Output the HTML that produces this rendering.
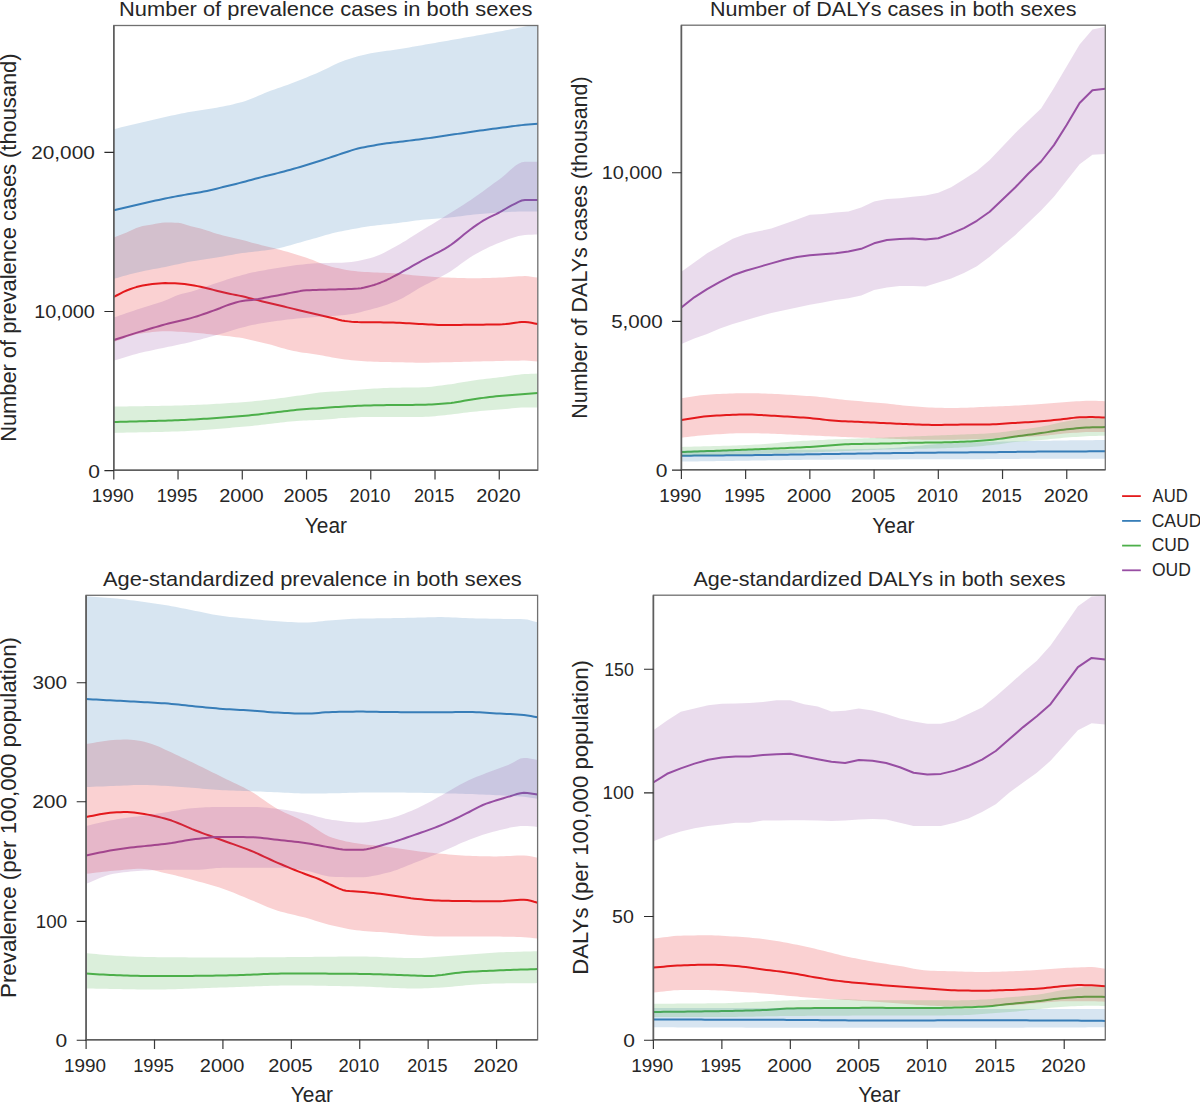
<!DOCTYPE html>
<html><head><meta charset="utf-8"><style>
html,body{margin:0;padding:0;background:#fff;}
svg{display:block;}
text{font-family:"Liberation Sans",sans-serif;fill:#262626;}
</style></head><body>
<svg width="1200" height="1103" viewBox="0 0 1200 1103">
<defs><clipPath id="clip1"><rect x="113.8" y="25.5" width="423.99999999999994" height="444.7"/></clipPath><clipPath id="clip2"><rect x="681.4" y="25.2" width="423.9" height="444.5"/></clipPath><clipPath id="clip3"><rect x="86.1" y="595.3" width="451.5" height="444.5"/></clipPath><clipPath id="clip4"><rect x="653.4" y="595.2" width="451.9" height="444.5999999999999"/></clipPath></defs>
<rect width="1200" height="1103" fill="#fff"/>
<g clip-path="url(#clip1)">
<polyline points="113.80,296.90 117.01,295.24 120.22,293.54 123.44,291.92 126.65,290.50 129.86,289.26 133.07,288.10 136.28,287.09 139.50,286.25 142.71,285.54 145.92,284.92 149.13,284.39 152.35,284.00 155.56,283.68 158.77,283.39 161.98,283.18 165.19,283.10 168.41,283.13 171.62,283.22 174.83,283.35 178.04,283.50 181.25,283.74 184.47,284.09 187.68,284.53 190.89,285.00 194.10,285.52 197.32,286.13 200.53,286.80 203.74,287.50 206.95,288.25 210.16,289.06 213.38,289.90 216.59,290.70 219.80,291.47 223.01,292.24 226.22,292.98 229.44,293.70 232.65,294.36 235.86,294.98 239.07,295.62 242.28,296.30 245.50,297.07 248.71,297.91 251.92,298.77 255.13,299.60 258.35,300.39 261.56,301.16 264.77,301.93 267.98,302.70 271.19,303.47 274.41,304.25 277.62,305.02 280.83,305.80 284.04,306.58 287.25,307.35 290.47,308.12 293.68,308.90 296.89,309.68 300.10,310.46 303.32,311.23 306.53,312.00 309.74,312.76 312.95,313.52 316.16,314.27 319.38,315.01 322.59,315.76 325.80,316.51 329.01,317.25 332.22,318.00 335.44,318.82 338.65,319.67 341.86,320.45 345.07,321.00 348.28,321.38 351.50,321.72 354.71,321.96 357.92,322.10 361.13,322.16 364.35,322.21 367.56,322.24 370.77,322.27 373.98,322.29 377.19,322.32 380.41,322.36 383.62,322.40 386.83,322.46 390.04,322.53 393.25,322.61 396.47,322.70 399.68,322.82 402.89,322.98 406.10,323.16 409.32,323.35 412.53,323.56 415.74,323.75 418.95,323.94 422.16,324.10 425.38,324.25 428.59,324.42 431.80,324.59 435.01,324.75 438.22,324.89 441.44,325.00 444.65,325.07 447.86,325.10 451.07,325.09 454.28,325.05 457.50,325.00 460.71,324.93 463.92,324.87 467.13,324.80 470.35,324.74 473.56,324.70 476.77,324.67 479.98,324.65 483.19,324.63 486.41,324.61 489.62,324.59 492.83,324.57 496.04,324.54 499.25,324.50 502.47,324.36 505.68,324.06 508.89,323.65 512.10,323.20 515.32,322.76 518.53,322.37 521.74,322.10 524.95,322.00 528.16,322.23 531.38,322.79 534.59,323.48 537.80,324.10" fill="none" stroke="#E41A1C" stroke-width="2.0" stroke-linejoin="round"/>
<polyline points="113.80,210.20 117.01,209.45 120.22,208.70 123.44,207.95 126.65,207.19 129.86,206.44 133.07,205.68 136.28,204.93 139.50,204.19 142.71,203.45 145.92,202.72 149.13,202.00 152.35,201.30 155.56,200.60 158.77,199.91 161.98,199.23 165.19,198.55 168.41,197.89 171.62,197.24 174.83,196.61 178.04,196.00 181.25,195.42 184.47,194.88 187.68,194.35 190.89,193.84 194.10,193.32 197.32,192.78 200.53,192.21 203.74,191.60 206.95,190.93 210.16,190.22 213.38,189.47 216.59,188.69 219.80,187.90 223.01,187.09 226.22,186.29 229.44,185.50 232.65,184.72 235.86,183.93 239.07,183.12 242.28,182.30 245.50,181.44 248.71,180.56 251.92,179.67 255.13,178.80 258.35,177.96 261.56,177.13 264.77,176.31 267.98,175.50 271.19,174.70 274.41,173.91 277.62,173.12 280.83,172.30 284.04,171.45 287.25,170.59 290.47,169.70 293.68,168.80 296.89,167.88 300.10,166.93 303.32,165.97 306.53,165.00 309.74,164.02 312.95,163.03 316.16,162.02 319.38,161.00 322.59,159.97 325.80,158.92 329.01,157.86 332.22,156.80 335.44,155.72 338.65,154.64 341.86,153.56 345.07,152.50 348.28,151.44 351.50,150.37 354.71,149.36 357.92,148.50 361.13,147.79 364.35,147.16 367.56,146.58 370.77,146.00 373.98,145.41 377.19,144.84 380.41,144.29 383.62,143.80 386.83,143.36 390.04,142.97 393.25,142.59 396.47,142.20 399.68,141.80 402.89,141.41 406.10,141.02 409.32,140.63 412.53,140.23 415.74,139.83 418.95,139.42 422.16,139.00 425.38,138.56 428.59,138.12 431.80,137.66 435.01,137.19 438.22,136.72 441.44,136.24 444.65,135.77 447.86,135.30 451.07,134.83 454.28,134.35 457.50,133.87 460.71,133.39 463.92,132.91 467.13,132.43 470.35,131.96 473.56,131.50 476.77,131.05 479.98,130.60 483.19,130.15 486.41,129.71 489.62,129.28 492.83,128.85 496.04,128.42 499.25,128.00 502.47,127.58 505.68,127.14 508.89,126.71 512.10,126.28 515.32,125.87 518.53,125.48 521.74,125.12 524.95,124.80 528.16,124.52 531.38,124.28 534.59,124.04 537.80,123.80" fill="none" stroke="#377EB8" stroke-width="2.0" stroke-linejoin="round"/>
<polyline points="113.80,422.00 117.01,421.91 120.22,421.83 123.44,421.74 126.65,421.66 129.86,421.58 133.07,421.51 136.28,421.43 139.50,421.35 142.71,421.27 145.92,421.19 149.13,421.11 152.35,421.02 155.56,420.94 158.77,420.85 161.98,420.75 165.19,420.65 168.41,420.55 171.62,420.44 174.83,420.32 178.04,420.20 181.25,420.07 184.47,419.93 187.68,419.77 190.89,419.61 194.10,419.44 197.32,419.25 200.53,419.06 203.74,418.86 206.95,418.66 210.16,418.44 213.38,418.22 216.59,417.99 219.80,417.76 223.01,417.52 226.22,417.28 229.44,417.03 232.65,416.78 235.86,416.52 239.07,416.26 242.28,416.00 245.50,415.72 248.71,415.42 251.92,415.10 255.13,414.75 258.35,414.39 261.56,414.02 264.77,413.63 267.98,413.24 271.19,412.84 274.41,412.44 277.62,412.05 280.83,411.65 284.04,411.26 287.25,410.89 290.47,410.52 293.68,410.17 296.89,409.85 300.10,409.54 303.32,409.25 306.53,409.00 309.74,408.78 312.95,408.58 316.16,408.40 319.38,408.20 322.59,407.99 325.80,407.77 329.01,407.54 332.22,407.31 335.44,407.09 338.65,406.88 341.86,406.68 345.07,406.50 348.28,406.33 351.50,406.17 354.71,406.01 357.92,405.86 361.13,405.72 364.35,405.59 367.56,405.49 370.77,405.40 373.98,405.33 377.19,405.27 380.41,405.21 383.62,405.16 386.83,405.11 390.04,405.07 393.25,405.03 396.47,405.00 399.68,404.97 402.89,404.95 406.10,404.93 409.32,404.91 412.53,404.89 415.74,404.87 418.95,404.84 422.16,404.80 425.38,404.73 428.59,404.62 431.80,404.47 435.01,404.28 438.22,404.07 441.44,403.83 444.65,403.57 447.86,403.30 451.07,402.96 454.28,402.52 457.50,402.00 460.71,401.42 463.92,400.83 467.13,400.24 470.35,399.69 473.56,399.20 476.77,398.75 479.98,398.31 483.19,397.88 486.41,397.46 489.62,397.06 492.83,396.68 496.04,396.32 499.25,396.00 502.47,395.71 505.68,395.44 508.89,395.19 512.10,394.96 515.32,394.73 518.53,394.49 521.74,394.25 524.95,394.00 528.16,393.73 531.38,393.46 534.59,393.18 537.80,392.90" fill="none" stroke="#4DAF4A" stroke-width="2.0" stroke-linejoin="round"/>
<polyline points="113.80,340.00 117.01,338.98 120.22,337.96 123.44,336.94 126.65,335.91 129.86,334.89 133.07,333.88 136.28,332.88 139.50,331.90 142.71,330.93 145.92,329.95 149.13,328.99 152.35,328.03 155.56,327.09 158.77,326.17 161.98,325.27 165.19,324.40 168.41,323.57 171.62,322.79 174.83,322.04 178.04,321.30 181.25,320.56 184.47,319.79 187.68,318.97 190.89,318.10 194.10,317.16 197.32,316.17 200.53,315.13 203.74,314.06 206.95,312.95 210.16,311.81 213.38,310.66 216.59,309.50 219.80,308.26 223.01,306.93 226.22,305.64 229.44,304.50 232.65,303.47 235.86,302.49 239.07,301.64 242.28,301.00 245.50,300.58 248.71,300.27 251.92,299.97 255.13,299.60 258.35,299.09 261.56,298.48 264.77,297.83 267.98,297.20 271.19,296.60 274.41,296.01 277.62,295.41 280.83,294.80 284.04,294.17 287.25,293.52 290.47,292.89 293.68,292.30 296.89,291.71 300.10,291.11 303.32,290.61 306.53,290.30 309.74,290.14 312.95,290.01 316.16,289.91 319.38,289.83 322.59,289.75 325.80,289.68 329.01,289.60 332.22,289.50 335.44,289.40 338.65,289.32 341.86,289.24 345.07,289.15 348.28,289.06 351.50,288.94 354.71,288.79 357.92,288.60 361.13,288.22 364.35,287.57 367.56,286.76 370.77,285.90 373.98,284.97 377.19,283.89 380.41,282.69 383.62,281.40 386.83,279.97 390.04,278.38 393.25,276.70 396.47,275.00 399.68,273.28 402.89,271.49 406.10,269.67 409.32,267.82 412.53,265.96 415.74,264.11 418.95,262.28 422.16,260.50 425.38,258.79 428.59,257.16 431.80,255.56 435.01,253.96 438.22,252.33 441.44,250.63 444.65,248.84 447.86,246.90 451.07,244.75 454.28,242.38 457.50,239.85 460.71,237.22 463.92,234.57 467.13,231.95 470.35,229.44 473.56,227.10 476.77,224.88 479.98,222.73 483.19,220.69 486.41,218.80 489.62,217.13 492.83,215.60 496.04,214.10 499.25,212.50 502.47,210.69 505.68,208.76 508.89,206.88 512.10,205.20 515.32,203.53 518.53,201.84 521.74,200.53 524.95,200.00 528.16,200.00 531.38,200.00 534.59,200.00 537.80,200.00" fill="none" stroke="#984EA3" stroke-width="2.0" stroke-linejoin="round"/>
<polygon points="113.80,237.50 117.01,236.26 120.22,235.04 123.44,233.79 126.65,232.50 129.86,231.04 133.07,229.47 136.28,228.01 139.50,226.90 142.71,226.12 145.92,225.49 149.13,224.93 152.35,224.40 155.56,223.80 158.77,223.18 161.98,222.70 165.19,222.50 168.41,222.52 171.62,222.57 174.83,222.65 178.04,222.75 181.25,223.21 184.47,224.14 187.68,225.26 190.89,226.25 194.10,227.04 197.32,227.78 200.53,228.55 203.74,229.40 206.95,230.42 210.16,231.57 213.38,232.73 216.59,233.75 219.80,234.61 223.01,235.39 226.22,236.14 229.44,236.90 232.65,237.67 235.86,238.43 239.07,239.20 242.28,240.00 245.50,240.85 248.71,241.74 251.92,242.63 255.13,243.50 258.35,244.33 261.56,245.14 264.77,245.92 267.98,246.71 271.19,247.50 274.41,248.30 277.62,249.13 280.83,250.00 284.04,250.90 287.25,251.82 290.47,252.77 293.68,253.74 296.89,254.72 300.10,255.73 303.32,256.76 306.53,257.80 309.74,258.91 312.95,260.12 316.16,261.38 319.38,262.65 322.59,263.88 325.80,265.03 329.01,266.05 332.22,266.90 335.44,267.64 338.65,268.35 341.86,269.01 345.07,269.63 348.28,270.18 351.50,270.67 354.71,271.08 357.92,271.40 361.13,271.66 364.35,271.88 367.56,272.06 370.77,272.23 373.98,272.38 377.19,272.52 380.41,272.65 383.62,272.79 386.83,272.94 390.04,273.10 393.25,273.28 396.47,273.50 399.68,273.76 402.89,274.08 406.10,274.43 409.32,274.79 412.53,275.16 415.74,275.51 418.95,275.83 422.16,276.10 425.38,276.33 428.59,276.56 431.80,276.78 435.01,276.98 438.22,277.17 441.44,277.33 444.65,277.48 447.86,277.60 451.07,277.71 454.28,277.81 457.50,277.92 460.71,278.01 463.92,278.09 467.13,278.15 470.35,278.19 473.56,278.20 476.77,278.19 479.98,278.15 483.19,278.09 486.41,278.01 489.62,277.92 492.83,277.81 496.04,277.71 499.25,277.60 502.47,277.45 505.68,277.25 508.89,277.00 512.10,276.74 515.32,276.50 518.53,276.29 521.74,276.15 524.95,276.10 528.16,276.26 531.38,276.66 534.59,277.15 537.80,277.60 537.80,361.60 534.59,361.30 531.38,360.98 528.16,360.71 524.95,360.60 521.74,360.61 518.53,360.64 515.32,360.68 512.10,360.74 508.89,360.80 505.68,360.87 502.47,360.94 499.25,361.00 496.04,361.06 492.83,361.13 489.62,361.21 486.41,361.29 483.19,361.36 479.98,361.44 476.77,361.52 473.56,361.60 470.35,361.68 467.13,361.75 463.92,361.83 460.71,361.91 457.50,361.98 454.28,362.06 451.07,362.13 447.86,362.20 444.65,362.27 441.44,362.35 438.22,362.44 435.01,362.52 431.80,362.59 428.59,362.65 425.38,362.69 422.16,362.70 418.95,362.69 415.74,362.65 412.53,362.59 409.32,362.52 406.10,362.44 402.89,362.35 399.68,362.27 396.47,362.20 393.25,362.13 390.04,362.07 386.83,362.01 383.62,361.95 380.41,361.88 377.19,361.80 373.98,361.71 370.77,361.60 367.56,361.46 364.35,361.27 361.13,361.05 357.92,360.79 354.71,360.50 351.50,360.19 348.28,359.85 345.07,359.50 341.86,359.09 338.65,358.59 335.44,358.03 332.22,357.42 329.01,356.79 325.80,356.16 322.59,355.56 319.38,355.00 316.16,354.49 312.95,354.02 309.74,353.56 306.53,353.11 303.32,352.64 300.10,352.14 296.89,351.60 293.68,351.00 290.47,350.30 287.25,349.49 284.04,348.60 280.83,347.66 277.62,346.71 274.41,345.76 271.19,344.84 267.98,344.00 264.77,343.22 261.56,342.47 258.35,341.73 255.13,341.00 251.92,340.23 248.71,339.44 245.50,338.71 242.28,338.10 239.07,337.60 235.86,337.16 232.65,336.75 229.44,336.37 226.22,336.02 223.01,335.68 219.80,335.34 216.59,335.00 213.38,334.65 210.16,334.30 206.95,333.95 203.74,333.61 200.53,333.29 197.32,333.00 194.10,332.73 190.89,332.50 187.68,332.29 184.47,332.07 181.25,331.86 178.04,331.67 174.83,331.50 171.62,331.37 168.41,331.28 165.19,331.25 161.98,331.31 158.77,331.46 155.56,331.70 152.35,332.02 149.13,332.40 145.92,332.82 142.71,333.28 139.50,333.75 136.28,334.35 133.07,335.18 129.86,336.17 126.65,337.28 123.44,338.46 120.22,339.66 117.01,340.82 113.80,341.90" fill="#E41A1C" fill-opacity="0.2"/>
<polygon points="113.80,129.20 117.01,128.41 120.22,127.62 123.44,126.82 126.65,126.02 129.86,125.23 133.07,124.45 136.28,123.67 139.50,122.90 142.71,122.14 145.92,121.38 149.13,120.63 152.35,119.89 155.56,119.15 158.77,118.42 161.98,117.70 165.19,117.00 168.41,116.30 171.62,115.60 174.83,114.91 178.04,114.22 181.25,113.55 184.47,112.91 187.68,112.29 190.89,111.70 194.10,111.16 197.32,110.66 200.53,110.18 203.74,109.72 206.95,109.26 210.16,108.78 213.38,108.26 216.59,107.70 219.80,107.10 223.01,106.47 226.22,105.82 229.44,105.13 232.65,104.40 235.86,103.62 239.07,102.79 242.28,101.90 245.50,100.89 248.71,99.74 251.92,98.48 255.13,97.14 258.35,95.77 261.56,94.39 264.77,93.06 267.98,91.80 271.19,90.61 274.41,89.45 277.62,88.31 280.83,87.17 284.04,86.04 287.25,84.89 290.47,83.71 293.68,82.50 296.89,81.26 300.10,79.99 303.32,78.71 306.53,77.40 309.74,76.08 312.95,74.73 316.16,73.38 319.38,72.00 322.59,70.56 325.80,69.03 329.01,67.45 332.22,65.86 335.44,64.31 338.65,62.84 341.86,61.49 345.07,60.30 348.28,59.23 351.50,58.21 354.71,57.23 357.92,56.32 361.13,55.47 364.35,54.68 367.56,53.95 370.77,53.30 373.98,52.72 377.19,52.20 380.41,51.73 383.62,51.29 386.83,50.86 390.04,50.43 393.25,49.98 396.47,49.50 399.68,48.99 402.89,48.46 406.10,47.93 409.32,47.38 412.53,46.83 415.74,46.28 418.95,45.72 422.16,45.15 425.38,44.59 428.59,44.02 431.80,43.46 435.01,42.90 438.22,42.34 441.44,41.78 444.65,41.22 447.86,40.67 451.07,40.11 454.28,39.55 457.50,38.99 460.71,38.43 463.92,37.86 467.13,37.30 470.35,36.73 473.56,36.16 476.77,35.59 479.98,35.02 483.19,34.44 486.41,33.86 489.62,33.28 492.83,32.69 496.04,32.10 499.25,31.50 502.47,30.90 505.68,30.29 508.89,29.67 512.10,29.05 515.32,28.42 518.53,27.79 521.74,27.16 524.95,26.52 528.16,25.89 531.38,25.26 534.59,24.63 537.80,24.00 537.80,211.50 534.59,211.50 531.38,211.50 528.16,211.50 524.95,211.50 521.74,211.52 518.53,211.59 515.32,211.70 512.10,211.83 508.89,211.99 505.68,212.15 502.47,212.33 499.25,212.50 496.04,212.69 492.83,212.90 489.62,213.14 486.41,213.41 483.19,213.69 479.98,213.98 476.77,214.29 473.56,214.60 470.35,214.94 467.13,215.32 463.92,215.73 460.71,216.15 457.50,216.57 454.28,216.98 451.07,217.36 447.86,217.70 444.65,217.99 441.44,218.26 438.22,218.50 435.01,218.74 431.80,218.98 428.59,219.22 425.38,219.50 422.16,219.80 418.95,220.15 415.74,220.55 412.53,220.98 409.32,221.43 406.10,221.89 402.89,222.35 399.68,222.79 396.47,223.20 393.25,223.58 390.04,223.93 386.83,224.27 383.62,224.60 380.41,224.94 377.19,225.30 373.98,225.68 370.77,226.10 367.56,226.56 364.35,227.07 361.13,227.60 357.92,228.17 354.71,228.76 351.50,229.36 348.28,229.98 345.07,230.60 341.86,231.22 338.65,231.87 335.44,232.56 332.22,233.30 329.01,234.15 325.80,235.08 322.59,236.06 319.38,237.00 316.16,237.91 312.95,238.81 309.74,239.70 306.53,240.60 303.32,241.50 300.10,242.40 296.89,243.30 293.68,244.20 290.47,245.14 287.25,246.11 284.04,247.02 280.83,247.80 277.62,248.44 274.41,249.01 271.19,249.52 267.98,250.00 264.77,250.44 261.56,250.84 258.35,251.20 255.13,251.56 251.92,251.91 248.71,252.28 245.50,252.67 242.28,253.10 239.07,253.58 235.86,254.10 232.65,254.66 229.44,255.23 226.22,255.81 223.01,256.39 219.80,256.96 216.59,257.50 213.38,258.01 210.16,258.50 206.95,258.98 203.74,259.45 200.53,259.93 197.32,260.43 194.10,260.95 190.89,261.50 187.68,262.10 184.47,262.75 181.25,263.43 178.04,264.13 174.83,264.83 171.62,265.54 168.41,266.23 165.19,266.90 161.98,267.53 158.77,268.14 155.56,268.73 152.35,269.33 149.13,269.93 145.92,270.55 142.71,271.20 139.50,271.90 136.28,272.65 133.07,273.46 129.86,274.31 126.65,275.19 123.44,276.09 120.22,276.99 117.01,277.88 113.80,278.75" fill="#377EB8" fill-opacity="0.2"/>
<polygon points="113.80,406.60 117.01,406.55 120.22,406.49 123.44,406.45 126.65,406.40 129.86,406.35 133.07,406.30 136.28,406.26 139.50,406.21 142.71,406.17 145.92,406.12 149.13,406.07 152.35,406.02 155.56,405.97 158.77,405.91 161.98,405.85 165.19,405.79 168.41,405.72 171.62,405.65 174.83,405.58 178.04,405.50 181.25,405.41 184.47,405.32 187.68,405.21 190.89,405.09 194.10,404.97 197.32,404.84 200.53,404.69 203.74,404.54 206.95,404.39 210.16,404.22 213.38,404.05 216.59,403.87 219.80,403.68 223.01,403.49 226.22,403.29 229.44,403.08 232.65,402.87 235.86,402.65 239.07,402.43 242.28,402.20 245.50,401.96 248.71,401.69 251.92,401.40 255.13,401.09 258.35,400.77 261.56,400.42 264.77,400.06 267.98,399.68 271.19,399.29 274.41,398.89 277.62,398.48 280.83,398.06 284.04,397.63 287.25,397.19 290.47,396.75 293.68,396.30 296.89,395.85 300.10,395.40 303.32,394.95 306.53,394.50 309.74,393.99 312.95,393.43 316.16,392.90 319.38,392.50 322.59,392.21 325.80,391.97 329.01,391.76 332.22,391.57 335.44,391.39 338.65,391.21 341.86,391.02 345.07,390.80 348.28,390.55 351.50,390.27 354.71,389.98 357.92,389.68 361.13,389.40 364.35,389.13 367.56,388.89 370.77,388.70 373.98,388.54 377.19,388.38 380.41,388.24 383.62,388.10 386.83,387.98 390.04,387.87 393.25,387.78 396.47,387.70 399.68,387.64 402.89,387.59 406.10,387.55 409.32,387.52 412.53,387.48 415.74,387.43 418.95,387.38 422.16,387.30 425.38,387.16 428.59,386.93 431.80,386.63 435.01,386.27 438.22,385.87 441.44,385.45 444.65,385.02 447.86,384.60 451.07,384.15 454.28,383.65 457.50,383.10 460.71,382.54 463.92,381.96 467.13,381.40 470.35,380.88 473.56,380.40 476.77,379.97 479.98,379.56 483.19,379.17 486.41,378.80 489.62,378.43 492.83,378.06 496.04,377.69 499.25,377.30 502.47,376.88 505.68,376.44 508.89,375.97 512.10,375.51 515.32,375.08 518.53,374.69 521.74,374.35 524.95,374.10 528.16,373.92 531.38,373.77 534.59,373.64 537.80,373.50 537.80,407.50 534.59,407.50 531.38,407.50 528.16,407.50 524.95,407.50 521.74,407.56 518.53,407.73 515.32,407.98 512.10,408.29 508.89,408.63 505.68,408.98 502.47,409.31 499.25,409.60 496.04,409.86 492.83,410.11 489.62,410.35 486.41,410.60 483.19,410.85 479.98,411.12 476.77,411.40 473.56,411.70 470.35,412.04 467.13,412.42 463.92,412.83 460.71,413.25 457.50,413.67 454.28,414.08 451.07,414.46 447.86,414.80 444.65,415.13 441.44,415.48 438.22,415.83 435.01,416.16 431.80,416.46 428.59,416.69 425.38,416.84 422.16,416.90 418.95,416.90 415.74,416.90 412.53,416.90 409.32,416.90 406.10,416.90 402.89,416.90 399.68,416.90 396.47,416.90 393.25,416.90 390.04,416.90 386.83,416.90 383.62,416.90 380.41,416.90 377.19,416.90 373.98,416.90 370.77,416.90 367.56,416.92 364.35,416.99 361.13,417.10 357.92,417.23 354.71,417.39 351.50,417.55 348.28,417.73 345.07,417.90 341.86,418.10 338.65,418.37 335.44,418.67 332.22,418.98 329.01,419.29 325.80,419.58 322.59,419.82 319.38,420.00 316.16,420.11 312.95,420.20 309.74,420.29 306.53,420.40 303.32,420.56 300.10,420.75 296.89,420.98 293.68,421.24 290.47,421.53 287.25,421.85 284.04,422.18 280.83,422.53 277.62,422.90 274.41,423.27 271.19,423.65 267.98,424.04 264.77,424.42 261.56,424.80 258.35,425.18 255.13,425.54 251.92,425.88 248.71,426.21 245.50,426.52 242.28,426.80 239.07,427.07 235.86,427.34 232.65,427.62 229.44,427.89 226.22,428.17 223.01,428.44 219.80,428.71 216.59,428.97 213.38,429.23 210.16,429.49 206.95,429.73 203.74,429.97 200.53,430.20 197.32,430.41 194.10,430.61 190.89,430.80 187.68,430.98 184.47,431.14 181.25,431.28 178.04,431.40 174.83,431.51 171.62,431.61 168.41,431.71 165.19,431.80 161.98,431.88 158.77,431.96 155.56,432.04 152.35,432.11 149.13,432.18 145.92,432.25 142.71,432.31 139.50,432.37 136.28,432.44 133.07,432.50 129.86,432.56 126.65,432.62 123.44,432.69 120.22,432.76 117.01,432.83 113.80,432.90" fill="#4DAF4A" fill-opacity="0.2"/>
<polygon points="113.80,317.50 117.01,316.40 120.22,315.30 123.44,314.19 126.65,313.09 129.86,311.99 133.07,310.89 136.28,309.81 139.50,308.75 142.71,307.72 145.92,306.74 149.13,305.78 152.35,304.82 155.56,303.84 158.77,302.83 161.98,301.75 165.19,300.60 168.41,299.24 171.62,297.72 174.83,296.23 178.04,295.00 181.25,294.07 184.47,293.29 187.68,292.54 190.89,291.70 194.10,290.73 197.32,289.69 200.53,288.60 203.74,287.47 206.95,286.32 210.16,285.18 213.38,284.07 216.59,283.00 219.80,281.95 223.01,280.90 226.22,279.85 229.44,278.82 232.65,277.81 235.86,276.83 239.07,275.89 242.28,275.00 245.50,274.14 248.71,273.32 251.92,272.56 255.13,271.90 258.35,271.31 261.56,270.72 264.77,270.13 267.98,269.56 271.19,268.99 274.41,268.44 277.62,267.90 280.83,267.38 284.04,266.88 287.25,266.40 290.47,265.94 293.68,265.50 296.89,265.10 300.10,264.72 303.32,264.38 306.53,264.07 309.74,263.79 312.95,263.55 316.16,263.35 319.38,263.20 322.59,263.08 325.80,263.00 329.01,262.93 332.22,262.87 335.44,262.81 338.65,262.73 341.86,262.63 345.07,262.50 348.28,262.28 351.50,261.93 354.71,261.47 357.92,260.92 361.13,260.28 364.35,259.57 367.56,258.80 370.77,258.00 373.98,257.04 377.19,255.84 380.41,254.44 383.62,252.89 386.83,251.22 390.04,249.49 393.25,247.73 396.47,246.00 399.68,244.23 402.89,242.35 406.10,240.38 409.32,238.36 412.53,236.30 415.74,234.24 418.95,232.19 422.16,230.20 425.38,228.25 428.59,226.31 431.80,224.38 435.01,222.45 438.22,220.51 441.44,218.56 444.65,216.60 447.86,214.60 451.07,212.59 454.28,210.56 457.50,208.53 460.71,206.48 463.92,204.40 467.13,202.30 470.35,200.17 473.56,198.00 476.77,195.78 479.98,193.50 483.19,191.17 486.41,188.82 489.62,186.47 492.83,184.11 496.04,181.79 499.25,179.50 502.47,177.01 505.68,174.19 508.89,171.25 512.10,168.39 515.32,165.81 518.53,163.72 521.74,162.31 524.95,161.80 528.16,161.80 531.38,161.80 534.59,161.80 537.80,161.80 537.80,234.40 534.59,234.53 531.38,234.65 528.16,234.80 524.95,235.00 521.74,235.39 518.53,236.04 515.32,236.91 512.10,237.94 508.89,239.09 505.68,240.32 502.47,241.57 499.25,242.80 496.04,244.06 492.83,245.42 489.62,246.87 486.41,248.42 483.19,250.04 479.98,251.74 476.77,253.49 473.56,255.30 470.35,257.25 467.13,259.41 463.92,261.70 460.71,264.07 457.50,266.44 454.28,268.77 451.07,270.97 447.86,273.00 444.65,274.85 441.44,276.61 438.22,278.29 435.01,279.92 431.80,281.53 428.59,283.14 425.38,284.79 422.16,286.50 418.95,288.32 415.74,290.23 412.53,292.20 409.32,294.17 406.10,296.08 402.89,297.89 399.68,299.55 396.47,301.00 393.25,302.29 390.04,303.49 386.83,304.63 383.62,305.69 380.41,306.69 377.19,307.64 373.98,308.54 370.77,309.40 367.56,310.25 364.35,311.10 361.13,311.93 357.92,312.71 354.71,313.44 351.50,314.07 348.28,314.60 345.07,315.00 341.86,315.30 338.65,315.54 335.44,315.75 332.22,315.94 329.01,316.11 325.80,316.29 322.59,316.48 319.38,316.70 316.16,316.94 312.95,317.19 309.74,317.44 306.53,317.70 303.32,317.98 300.10,318.27 296.89,318.57 293.68,318.90 290.47,319.25 287.25,319.61 284.04,319.99 280.83,320.39 277.62,320.81 274.41,321.25 271.19,321.72 267.98,322.20 264.77,322.72 261.56,323.25 258.35,323.81 255.13,324.40 251.92,325.07 248.71,325.83 245.50,326.66 242.28,327.50 239.07,328.37 235.86,329.28 232.65,330.23 229.44,331.19 226.22,332.16 223.01,333.13 219.80,334.08 216.59,335.00 213.38,335.90 210.16,336.80 206.95,337.69 203.74,338.58 200.53,339.44 197.32,340.29 194.10,341.11 190.89,341.90 187.68,342.66 184.47,343.38 181.25,344.09 178.04,344.77 174.83,345.45 171.62,346.13 168.41,346.81 165.19,347.50 161.98,348.19 158.77,348.86 155.56,349.53 152.35,350.20 149.13,350.88 145.92,351.59 142.71,352.32 139.50,353.10 136.28,353.93 133.07,354.82 129.86,355.75 126.65,356.71 123.44,357.69 120.22,358.67 117.01,359.65 113.80,360.60" fill="#984EA3" fill-opacity="0.2"/>
</g>
<rect x="113.8" y="25.5" width="423.99999999999994" height="444.7" fill="none" stroke="#707070" stroke-width="1.3"/>
<path d="M113.8,25.5 V470.2 H537.8" fill="none" stroke="#5e5e5e" stroke-width="1.6"/>
<path d="M113.80,470.2 v9.2 M178.04,470.2 v9.2 M242.28,470.2 v9.2 M306.53,470.2 v9.2 M370.77,470.2 v9.2 M435.01,470.2 v9.2 M499.25,470.2 v9.2" stroke="#3a3a3a" stroke-width="1.2" fill="none"/>
<g clip-path="url(#clip2)">
<polyline points="681.40,420.00 684.61,419.51 687.82,418.99 691.03,418.45 694.25,417.92 697.46,417.42 700.67,416.97 703.88,416.59 707.09,416.30 710.30,416.07 713.51,415.84 716.73,415.62 719.94,415.42 723.15,415.22 726.36,415.05 729.57,414.89 732.78,414.76 735.99,414.65 739.20,414.57 742.42,414.52 745.63,414.50 748.84,414.53 752.05,414.62 755.26,414.76 758.47,414.93 761.68,415.12 764.90,415.32 768.11,415.52 771.32,415.70 774.53,415.87 777.74,416.04 780.95,416.22 784.16,416.40 787.38,416.58 790.59,416.77 793.80,416.97 797.01,417.17 800.22,417.39 803.43,417.61 806.64,417.85 809.85,418.10 813.07,418.39 816.28,418.73 819.49,419.11 822.70,419.50 825.91,419.88 829.12,420.24 832.33,420.55 835.55,420.80 838.76,420.99 841.97,421.16 845.18,421.32 848.39,421.46 851.60,421.59 854.81,421.72 858.02,421.86 861.24,422.00 864.45,422.15 867.66,422.30 870.87,422.45 874.08,422.61 877.29,422.76 880.50,422.91 883.72,423.05 886.93,423.20 890.14,423.35 893.35,423.49 896.56,423.64 899.77,423.79 902.98,423.93 906.20,424.06 909.41,424.19 912.62,424.30 915.83,424.41 919.04,424.53 922.25,424.65 925.46,424.76 928.67,424.85 931.89,424.93 935.10,424.98 938.31,425.00 941.52,424.96 944.73,424.87 947.94,424.77 951.15,424.70 954.37,424.66 957.58,424.63 960.79,424.61 964.00,424.59 967.21,424.57 970.42,424.56 973.63,424.54 976.85,424.52 980.06,424.50 983.27,424.48 986.48,424.44 989.69,424.40 992.90,424.32 996.11,424.19 999.33,424.01 1002.54,423.80 1005.75,423.57 1008.96,423.33 1012.17,423.11 1015.38,422.90 1018.59,422.71 1021.80,422.53 1025.02,422.34 1028.23,422.15 1031.44,421.96 1034.65,421.76 1037.86,421.54 1041.07,421.30 1044.28,421.04 1047.50,420.74 1050.71,420.43 1053.92,420.09 1057.13,419.75 1060.34,419.39 1063.55,419.04 1066.76,418.70 1069.97,418.31 1073.19,417.87 1076.40,417.50 1079.61,417.30 1082.82,417.22 1086.03,417.16 1089.24,417.11 1092.45,417.10 1095.67,417.15 1098.88,417.29 1102.09,417.45 1105.30,417.60" fill="none" stroke="#E41A1C" stroke-width="2.0" stroke-linejoin="round"/>
<polyline points="681.40,455.70 684.61,455.68 687.82,455.65 691.03,455.63 694.25,455.60 697.46,455.58 700.67,455.56 703.88,455.54 707.09,455.51 710.30,455.49 713.51,455.47 716.73,455.44 719.94,455.42 723.15,455.40 726.36,455.37 729.57,455.35 732.78,455.32 735.99,455.29 739.20,455.26 742.42,455.23 745.63,455.20 748.84,455.17 752.05,455.13 755.26,455.09 758.47,455.05 761.68,455.01 764.90,454.97 768.11,454.92 771.32,454.88 774.53,454.83 777.74,454.78 780.95,454.73 784.16,454.69 787.38,454.64 790.59,454.59 793.80,454.54 797.01,454.49 800.22,454.44 803.43,454.39 806.64,454.35 809.85,454.30 813.07,454.25 816.28,454.21 819.49,454.16 822.70,454.12 825.91,454.07 829.12,454.02 832.33,453.97 835.55,453.93 838.76,453.88 841.97,453.83 845.18,453.78 848.39,453.74 851.60,453.69 854.81,453.64 858.02,453.60 861.24,453.55 864.45,453.50 867.66,453.46 870.87,453.41 874.08,453.37 877.29,453.33 880.50,453.28 883.72,453.24 886.93,453.20 890.14,453.16 893.35,453.12 896.56,453.08 899.77,453.04 902.98,453.00 906.20,452.96 909.41,452.92 912.62,452.88 915.83,452.84 919.04,452.80 922.25,452.77 925.46,452.73 928.67,452.70 931.89,452.66 935.10,452.63 938.31,452.60 941.52,452.57 944.73,452.54 947.94,452.52 951.15,452.49 954.37,452.47 957.58,452.45 960.79,452.42 964.00,452.40 967.21,452.38 970.42,452.35 973.63,452.33 976.85,452.31 980.06,452.28 983.27,452.26 986.48,452.23 989.69,452.20 992.90,452.17 996.11,452.13 999.33,452.10 1002.54,452.06 1005.75,452.01 1008.96,451.97 1012.17,451.93 1015.38,451.88 1018.59,451.84 1021.80,451.80 1025.02,451.76 1028.23,451.72 1031.44,451.68 1034.65,451.65 1037.86,451.62 1041.07,451.60 1044.28,451.58 1047.50,451.56 1050.71,451.54 1053.92,451.52 1057.13,451.51 1060.34,451.49 1063.55,451.47 1066.76,451.46 1069.97,451.45 1073.19,451.43 1076.40,451.42 1079.61,451.41 1082.82,451.39 1086.03,451.38 1089.24,451.37 1092.45,451.36 1095.67,451.34 1098.88,451.33 1102.09,451.31 1105.30,451.30" fill="none" stroke="#377EB8" stroke-width="2.0" stroke-linejoin="round"/>
<polyline points="681.40,452.00 684.61,451.89 687.82,451.77 691.03,451.66 694.25,451.55 697.46,451.44 700.67,451.32 703.88,451.21 707.09,451.10 710.30,450.99 713.51,450.88 716.73,450.77 719.94,450.65 723.15,450.54 726.36,450.42 729.57,450.31 732.78,450.19 735.99,450.07 739.20,449.95 742.42,449.83 745.63,449.70 748.84,449.57 752.05,449.45 755.26,449.32 758.47,449.20 761.68,449.07 764.90,448.95 768.11,448.82 771.32,448.69 774.53,448.56 777.74,448.42 780.95,448.29 784.16,448.15 787.38,448.01 790.59,447.86 793.80,447.71 797.01,447.56 800.22,447.40 803.43,447.24 806.64,447.07 809.85,446.90 813.07,446.71 816.28,446.48 819.49,446.23 822.70,445.97 825.91,445.70 829.12,445.42 832.33,445.16 835.55,444.91 838.76,444.68 841.97,444.48 845.18,444.32 848.39,444.20 851.60,444.11 854.81,444.04 858.02,443.97 861.24,443.92 864.45,443.87 867.66,443.82 870.87,443.77 874.08,443.73 877.29,443.68 880.50,443.62 883.72,443.57 886.93,443.50 890.14,443.42 893.35,443.34 896.56,443.24 899.77,443.14 902.98,443.05 906.20,442.96 909.41,442.87 912.62,442.80 915.83,442.74 919.04,442.69 922.25,442.64 925.46,442.60 928.67,442.56 931.89,442.52 935.10,442.48 938.31,442.44 941.52,442.39 944.73,442.34 947.94,442.27 951.15,442.20 954.37,442.11 957.58,442.00 960.79,441.87 964.00,441.73 967.21,441.56 970.42,441.38 973.63,441.18 976.85,440.97 980.06,440.75 983.27,440.51 986.48,440.26 989.69,440.00 992.90,439.69 996.11,439.32 999.33,438.88 1002.54,438.42 1005.75,437.93 1008.96,437.43 1012.17,436.95 1015.38,436.50 1018.59,436.07 1021.80,435.65 1025.02,435.23 1028.23,434.82 1031.44,434.40 1034.65,433.97 1037.86,433.54 1041.07,433.10 1044.28,432.63 1047.50,432.12 1050.71,431.60 1053.92,431.08 1057.13,430.57 1060.34,430.09 1063.55,429.67 1066.76,429.30 1069.97,428.97 1073.19,428.65 1076.40,428.34 1079.61,428.05 1082.82,427.79 1086.03,427.58 1089.24,427.41 1092.45,427.30 1095.67,427.23 1098.88,427.19 1102.09,427.14 1105.30,427.10" fill="none" stroke="#4DAF4A" stroke-width="2.0" stroke-linejoin="round"/>
<polyline points="681.40,307.40 694.25,297.30 707.09,289.10 719.94,281.80 732.78,275.30 745.63,270.80 758.47,267.10 771.32,263.40 784.16,259.80 797.01,257.00 809.85,255.20 822.70,254.30 835.55,253.30 848.39,251.50 861.24,248.80 874.08,243.30 886.93,240.00 899.77,239.00 912.62,238.50 925.46,239.60 938.31,238.20 951.15,233.60 964.00,228.10 976.85,220.80 989.69,211.80 1002.54,199.60 1015.38,187.30 1028.23,173.70 1041.07,161.50 1053.92,145.10 1066.76,124.70 1079.61,103.00 1092.45,90.20 1105.30,88.80" fill="none" stroke="#984EA3" stroke-width="2.0" stroke-linejoin="round"/>
<polygon points="681.40,398.30 684.61,397.82 687.82,397.31 691.03,396.78 694.25,396.25 697.46,395.76 700.67,395.32 703.88,394.96 707.09,394.70 710.30,394.50 713.51,394.31 716.73,394.12 719.94,393.95 723.15,393.79 726.36,393.65 729.57,393.52 732.78,393.41 735.99,393.32 739.20,393.25 742.42,393.21 745.63,393.20 748.84,393.21 752.05,393.24 755.26,393.30 758.47,393.37 761.68,393.46 764.90,393.56 768.11,393.68 771.32,393.82 774.53,393.96 777.74,394.12 780.95,394.29 784.16,394.47 787.38,394.66 790.59,394.85 793.80,395.05 797.01,395.26 800.22,395.47 803.43,395.68 806.64,395.89 809.85,396.10 813.07,396.33 816.28,396.61 819.49,396.92 822.70,397.26 825.91,397.62 829.12,398.00 832.33,398.39 835.55,398.77 838.76,399.16 841.97,399.52 845.18,399.88 848.39,400.20 851.60,400.50 854.81,400.80 858.02,401.08 861.24,401.36 864.45,401.63 867.66,401.90 870.87,402.17 874.08,402.44 877.29,402.72 880.50,403.00 883.72,403.30 886.93,403.60 890.14,403.93 893.35,404.28 896.56,404.65 899.77,405.02 902.98,405.38 906.20,405.72 909.41,406.03 912.62,406.30 915.83,406.54 919.04,406.78 922.25,407.00 925.46,407.22 928.67,407.41 931.89,407.57 935.10,407.71 938.31,407.80 941.52,407.87 944.73,407.94 947.94,407.98 951.15,408.00 954.37,407.98 957.58,407.94 960.79,407.87 964.00,407.77 967.21,407.66 970.42,407.53 973.63,407.40 976.85,407.25 980.06,407.11 983.27,406.97 986.48,406.83 989.69,406.70 992.90,406.58 996.11,406.45 999.33,406.32 1002.54,406.19 1005.75,406.05 1008.96,405.91 1012.17,405.76 1015.38,405.60 1018.59,405.43 1021.80,405.25 1025.02,405.06 1028.23,404.86 1031.44,404.65 1034.65,404.44 1037.86,404.22 1041.07,404.00 1044.28,403.77 1047.50,403.51 1050.71,403.25 1053.92,402.97 1057.13,402.71 1060.34,402.45 1063.55,402.21 1066.76,402.00 1069.97,401.79 1073.19,401.58 1076.40,401.36 1079.61,401.15 1082.82,400.97 1086.03,400.83 1089.24,400.73 1092.45,400.70 1095.67,400.77 1098.88,400.93 1102.09,401.12 1105.30,401.30 1105.30,432.00 1102.09,432.00 1098.88,432.00 1095.67,432.00 1092.45,432.00 1089.24,432.03 1086.03,432.12 1082.82,432.26 1079.61,432.43 1076.40,432.63 1073.19,432.85 1069.97,433.08 1066.76,433.30 1063.55,433.56 1060.34,433.89 1057.13,434.26 1053.92,434.65 1050.71,435.04 1047.50,435.41 1044.28,435.74 1041.07,436.00 1037.86,436.21 1034.65,436.39 1031.44,436.55 1028.23,436.70 1025.02,436.85 1021.80,436.99 1018.59,437.14 1015.38,437.30 1012.17,437.48 1008.96,437.66 1005.75,437.85 1002.54,438.04 999.33,438.23 996.11,438.40 992.90,438.56 989.69,438.70 986.48,438.83 983.27,438.95 980.06,439.06 976.85,439.17 973.63,439.27 970.42,439.36 967.21,439.44 964.00,439.50 960.79,439.55 957.58,439.61 954.37,439.66 951.15,439.70 947.94,439.74 944.73,439.77 941.52,439.79 938.31,439.80 935.10,439.79 931.89,439.77 928.67,439.75 925.46,439.71 922.25,439.66 919.04,439.61 915.83,439.56 912.62,439.50 909.41,439.43 906.20,439.32 902.98,439.20 899.77,439.06 896.56,438.91 893.35,438.77 890.14,438.63 886.93,438.50 883.72,438.39 880.50,438.28 877.29,438.17 874.08,438.07 870.87,437.97 867.66,437.86 864.45,437.76 861.24,437.66 858.02,437.55 854.81,437.44 851.60,437.32 848.39,437.20 845.18,437.07 841.97,436.93 838.76,436.78 835.55,436.62 832.33,436.47 829.12,436.30 825.91,436.14 822.70,435.98 819.49,435.83 816.28,435.68 813.07,435.53 809.85,435.40 806.64,435.27 803.43,435.13 800.22,434.99 797.01,434.84 793.80,434.69 790.59,434.55 787.38,434.40 784.16,434.26 780.95,434.11 777.74,433.98 774.53,433.85 771.32,433.73 768.11,433.62 764.90,433.51 761.68,433.42 758.47,433.35 755.26,433.28 752.05,433.24 748.84,433.21 745.63,433.20 742.42,433.22 739.20,433.27 735.99,433.36 732.78,433.48 729.57,433.62 726.36,433.78 723.15,433.96 719.94,434.15 716.73,434.36 713.51,434.57 710.30,434.79 707.09,435.00 703.88,435.24 700.67,435.54 697.46,435.87 694.25,436.23 691.03,436.60 687.82,436.98 684.61,437.35 681.40,437.70" fill="#E41A1C" fill-opacity="0.2"/>
<polygon points="681.40,450.60 684.61,450.57 687.82,450.54 691.03,450.51 694.25,450.49 697.46,450.46 700.67,450.44 703.88,450.41 707.09,450.39 710.30,450.36 713.51,450.34 716.73,450.32 719.94,450.30 723.15,450.28 726.36,450.25 729.57,450.23 732.78,450.21 735.99,450.19 739.20,450.17 742.42,450.15 745.63,450.13 748.84,450.11 752.05,450.09 755.26,450.07 758.47,450.05 761.68,450.03 764.90,450.01 768.11,449.99 771.32,449.97 774.53,449.94 777.74,449.92 780.95,449.90 784.16,449.88 787.38,449.85 790.59,449.83 793.80,449.80 797.01,449.78 800.22,449.75 803.43,449.72 806.64,449.69 809.85,449.66 813.07,449.63 816.28,449.60 819.49,449.57 822.70,449.53 825.91,449.50 829.12,449.46 832.33,449.43 835.55,449.39 838.76,449.35 841.97,449.31 845.18,449.26 848.39,449.22 851.60,449.17 854.81,449.12 858.02,449.07 861.24,449.02 864.45,448.97 867.66,448.92 870.87,448.86 874.08,448.80 877.29,448.72 880.50,448.61 883.72,448.47 886.93,448.30 890.14,448.11 893.35,447.89 896.56,447.66 899.77,447.41 902.98,447.14 906.20,446.86 909.41,446.58 912.62,446.28 915.83,445.99 919.04,445.69 922.25,445.40 925.46,445.11 928.67,444.83 931.89,444.56 935.10,444.30 938.31,444.06 941.52,443.83 944.73,443.63 947.94,443.45 951.15,443.30 954.37,443.16 957.58,443.03 960.79,442.91 964.00,442.79 967.21,442.67 970.42,442.55 973.63,442.44 976.85,442.34 980.06,442.23 983.27,442.13 986.48,442.04 989.69,441.95 992.90,441.86 996.11,441.77 999.33,441.68 1002.54,441.60 1005.75,441.52 1008.96,441.45 1012.17,441.37 1015.38,441.30 1018.59,441.23 1021.80,441.16 1025.02,441.09 1028.23,441.03 1031.44,440.97 1034.65,440.91 1037.86,440.85 1041.07,440.79 1044.28,440.73 1047.50,440.68 1050.71,440.63 1053.92,440.58 1057.13,440.53 1060.34,440.49 1063.55,440.44 1066.76,440.40 1069.97,440.36 1073.19,440.32 1076.40,440.29 1079.61,440.25 1082.82,440.22 1086.03,440.19 1089.24,440.16 1092.45,440.13 1095.67,440.10 1098.88,440.06 1102.09,440.03 1105.30,440.00 1105.30,458.80 1102.09,458.80 1098.88,458.80 1095.67,458.80 1092.45,458.80 1089.24,458.80 1086.03,458.80 1082.82,458.80 1079.61,458.80 1076.40,458.80 1073.19,458.80 1069.97,458.80 1066.76,458.80 1063.55,458.80 1060.34,458.80 1057.13,458.80 1053.92,458.80 1050.71,458.80 1047.50,458.80 1044.28,458.80 1041.07,458.80 1037.86,458.80 1034.65,458.81 1031.44,458.82 1028.23,458.84 1025.02,458.85 1021.80,458.87 1018.59,458.90 1015.38,458.92 1012.17,458.94 1008.96,458.97 1005.75,458.99 1002.54,459.02 999.33,459.04 996.11,459.06 992.90,459.08 989.69,459.10 986.48,459.11 983.27,459.13 980.06,459.14 976.85,459.16 973.63,459.17 970.42,459.19 967.21,459.20 964.00,459.21 960.79,459.23 957.58,459.24 954.37,459.25 951.15,459.26 947.94,459.27 944.73,459.28 941.52,459.29 938.31,459.30 935.10,459.31 931.89,459.32 928.67,459.32 925.46,459.33 922.25,459.33 919.04,459.34 915.83,459.34 912.62,459.35 909.41,459.35 906.20,459.36 902.98,459.36 899.77,459.37 896.56,459.38 893.35,459.38 890.14,459.39 886.93,459.40 883.72,459.41 880.50,459.42 877.29,459.43 874.08,459.44 870.87,459.45 867.66,459.46 864.45,459.48 861.24,459.49 858.02,459.51 854.81,459.52 851.60,459.54 848.39,459.55 845.18,459.57 841.97,459.59 838.76,459.61 835.55,459.62 832.33,459.64 829.12,459.66 825.91,459.69 822.70,459.71 819.49,459.73 816.28,459.75 813.07,459.78 809.85,459.80 806.64,459.83 803.43,459.86 800.22,459.89 797.01,459.93 793.80,459.97 790.59,460.01 787.38,460.05 784.16,460.10 780.95,460.15 777.74,460.20 774.53,460.25 771.32,460.30 768.11,460.35 764.90,460.40 761.68,460.46 758.47,460.51 755.26,460.56 752.05,460.61 748.84,460.65 745.63,460.70 742.42,460.75 739.20,460.79 735.99,460.83 732.78,460.88 729.57,460.92 726.36,460.97 723.15,461.01 719.94,461.06 716.73,461.11 713.51,461.15 710.30,461.19 707.09,461.24 703.88,461.29 700.67,461.33 697.46,461.38 694.25,461.42 691.03,461.47 687.82,461.51 684.61,461.56 681.40,461.60" fill="#377EB8" fill-opacity="0.2"/>
<polygon points="681.40,446.90 684.61,446.81 687.82,446.73 691.03,446.65 694.25,446.57 697.46,446.49 700.67,446.41 703.88,446.33 707.09,446.26 710.30,446.18 713.51,446.10 716.73,446.02 719.94,445.93 723.15,445.85 726.36,445.76 729.57,445.66 732.78,445.56 735.99,445.46 739.20,445.34 742.42,445.23 745.63,445.10 748.84,444.96 752.05,444.79 755.26,444.60 758.47,444.39 761.68,444.17 764.90,443.93 768.11,443.68 771.32,443.42 774.53,443.16 777.74,442.89 780.95,442.61 784.16,442.34 787.38,442.07 790.59,441.81 793.80,441.56 797.01,441.31 800.22,441.08 803.43,440.87 806.64,440.67 809.85,440.50 813.07,440.34 816.28,440.19 819.49,440.04 822.70,439.89 825.91,439.76 829.12,439.62 832.33,439.49 835.55,439.37 838.76,439.25 841.97,439.13 845.18,439.01 848.39,438.89 851.60,438.78 854.81,438.67 858.02,438.55 861.24,438.44 864.45,438.33 867.66,438.22 870.87,438.10 874.08,437.99 877.29,437.87 880.50,437.75 883.72,437.63 886.93,437.50 890.14,437.37 893.35,437.24 896.56,437.12 899.77,436.99 902.98,436.86 906.20,436.73 909.41,436.60 912.62,436.47 915.83,436.34 919.04,436.21 922.25,436.08 925.46,435.95 928.67,435.82 931.89,435.69 935.10,435.56 938.31,435.43 941.52,435.29 944.73,435.16 947.94,435.03 951.15,434.90 954.37,434.77 957.58,434.65 960.79,434.54 964.00,434.43 967.21,434.32 970.42,434.20 973.63,434.08 976.85,433.96 980.06,433.82 983.27,433.66 986.48,433.49 989.69,433.30 992.90,433.07 996.11,432.77 999.33,432.43 1002.54,432.06 1005.75,431.65 1008.96,431.23 1012.17,430.81 1015.38,430.40 1018.59,429.99 1021.80,429.57 1025.02,429.14 1028.23,428.69 1031.44,428.23 1034.65,427.74 1037.86,427.23 1041.07,426.70 1044.28,426.11 1047.50,425.45 1050.71,424.75 1053.92,424.02 1057.13,423.28 1060.34,422.57 1063.55,421.90 1066.76,421.30 1069.97,420.73 1073.19,420.17 1076.40,419.68 1079.61,419.30 1082.82,418.98 1086.03,418.69 1089.24,418.48 1092.45,418.40 1095.67,418.43 1098.88,418.51 1102.09,418.61 1105.30,418.70 1105.30,435.70 1102.09,435.77 1098.88,435.84 1095.67,435.91 1092.45,436.00 1089.24,436.12 1086.03,436.28 1082.82,436.46 1079.61,436.66 1076.40,436.89 1073.19,437.12 1069.97,437.36 1066.76,437.60 1063.55,437.86 1060.34,438.14 1057.13,438.45 1053.92,438.77 1050.71,439.09 1047.50,439.41 1044.28,439.71 1041.07,440.00 1037.86,440.26 1034.65,440.50 1031.44,440.73 1028.23,440.96 1025.02,441.19 1021.80,441.44 1018.59,441.71 1015.38,442.00 1012.17,442.35 1008.96,442.75 1005.75,443.20 1002.54,443.66 999.33,444.13 996.11,444.57 992.90,444.96 989.69,445.30 986.48,445.59 983.27,445.88 980.06,446.16 976.85,446.42 973.63,446.68 970.42,446.92 967.21,447.15 964.00,447.36 960.79,447.55 957.58,447.72 954.37,447.87 951.15,448.00 947.94,448.11 944.73,448.22 941.52,448.31 938.31,448.40 935.10,448.48 931.89,448.55 928.67,448.62 925.46,448.69 922.25,448.75 919.04,448.81 915.83,448.87 912.62,448.93 909.41,448.99 906.20,449.05 902.98,449.12 899.77,449.18 896.56,449.25 893.35,449.33 890.14,449.41 886.93,449.50 883.72,449.59 880.50,449.70 877.29,449.80 874.08,449.91 870.87,450.03 867.66,450.14 864.45,450.27 861.24,450.39 858.02,450.52 854.81,450.65 851.60,450.78 848.39,450.91 845.18,451.04 841.97,451.17 838.76,451.30 835.55,451.43 832.33,451.56 829.12,451.69 825.91,451.82 822.70,451.94 819.49,452.06 816.28,452.18 813.07,452.29 809.85,452.40 806.64,452.51 803.43,452.61 800.22,452.71 797.01,452.81 793.80,452.91 790.59,453.01 787.38,453.10 784.16,453.20 780.95,453.29 777.74,453.38 774.53,453.48 771.32,453.57 768.11,453.66 764.90,453.75 761.68,453.84 758.47,453.93 755.26,454.02 752.05,454.12 748.84,454.21 745.63,454.30 742.42,454.39 739.20,454.48 735.99,454.58 732.78,454.67 729.57,454.76 726.36,454.85 723.15,454.94 719.94,455.03 716.73,455.12 713.51,455.21 710.30,455.30 707.09,455.38 703.88,455.47 700.67,455.56 697.46,455.65 694.25,455.74 691.03,455.83 687.82,455.92 684.61,456.01 681.40,456.10" fill="#4DAF4A" fill-opacity="0.2"/>
<polygon points="681.40,271.70 694.25,262.50 707.09,253.30 719.94,246.00 732.78,238.70 745.63,234.10 758.47,231.30 771.32,228.60 784.16,224.00 797.01,219.40 809.85,214.80 822.70,213.90 835.55,212.60 848.39,211.50 861.24,207.50 874.08,201.60 886.93,199.00 899.77,198.20 912.62,196.80 925.46,195.50 938.31,192.80 951.15,187.30 964.00,179.20 976.85,171.00 989.69,160.10 1002.54,146.50 1015.38,132.90 1028.23,120.70 1041.07,108.40 1053.92,88.00 1066.76,66.30 1079.61,44.50 1092.45,29.50 1105.30,26.80 1105.30,154.10 1092.45,154.70 1079.61,164.20 1066.76,180.50 1053.92,196.80 1041.07,210.40 1028.23,222.70 1015.38,234.90 1002.54,245.80 989.69,256.70 976.85,266.20 964.00,273.00 951.15,278.50 938.31,282.50 925.46,286.60 912.62,286.10 899.77,286.10 886.93,287.60 874.08,290.00 861.24,295.50 848.39,298.30 835.55,300.10 822.70,302.50 809.85,304.70 797.01,307.40 784.16,310.20 771.32,312.90 758.47,316.60 745.63,320.30 732.78,323.90 719.94,328.50 707.09,334.00 694.25,338.60 681.40,344.10" fill="#984EA3" fill-opacity="0.2"/>
</g>
<rect x="681.4" y="25.2" width="423.9" height="444.5" fill="none" stroke="#707070" stroke-width="1.3"/>
<path d="M681.4,25.2 V469.7 H1105.3" fill="none" stroke="#5e5e5e" stroke-width="1.6"/>
<path d="M681.40,469.7 v9.2 M745.63,469.7 v9.2 M809.85,469.7 v9.2 M874.08,469.7 v9.2 M938.31,469.7 v9.2 M1002.54,469.7 v9.2 M1066.76,469.7 v9.2" stroke="#3a3a3a" stroke-width="1.2" fill="none"/>
<g clip-path="url(#clip3)">
<polyline points="86.10,816.90 89.52,816.31 92.94,815.67 96.36,815.00 99.78,814.34 103.20,813.73 106.62,813.20 110.04,812.77 113.46,812.50 116.88,812.31 120.30,812.15 123.72,812.04 127.15,812.00 130.57,812.14 133.99,812.51 137.41,812.99 140.83,813.50 144.25,814.02 147.67,814.62 151.09,815.28 154.51,816.01 157.93,816.80 161.35,817.65 164.77,818.55 168.19,819.50 171.61,820.57 175.03,821.82 178.45,823.20 181.87,824.66 185.29,826.17 188.71,827.67 192.13,829.13 195.55,830.50 198.97,831.80 202.40,833.07 205.82,834.32 209.24,835.56 212.66,836.79 216.08,838.02 219.50,839.26 222.92,840.50 226.34,841.74 229.76,842.95 233.18,844.16 236.60,845.37 240.02,846.60 243.44,847.85 246.86,849.15 250.28,850.50 253.70,851.92 257.12,853.42 260.54,854.98 263.96,856.56 267.38,858.16 270.80,859.75 274.23,861.30 277.65,862.80 281.07,864.26 284.49,865.71 287.91,867.14 291.33,868.55 294.75,869.95 298.17,871.32 301.59,872.67 305.01,874.00 308.43,875.25 311.85,876.45 315.27,877.67 318.69,879.00 322.11,880.54 325.53,882.23 328.95,883.94 332.37,885.50 335.79,887.05 339.21,888.61 342.63,889.92 346.05,890.70 349.48,891.04 352.90,891.26 356.32,891.46 359.74,891.70 363.16,892.01 366.58,892.34 370.00,892.69 373.42,893.06 376.84,893.45 380.26,893.86 383.68,894.28 387.10,894.70 390.52,895.16 393.94,895.68 397.36,896.23 400.78,896.80 404.20,897.35 407.62,897.86 411.04,898.32 414.46,898.70 417.88,899.03 421.30,899.36 424.73,899.66 428.15,899.95 431.57,900.20 434.99,900.42 438.41,900.59 441.83,900.70 445.25,900.78 448.67,900.84 452.09,900.90 455.51,900.95 458.93,900.99 462.35,901.03 465.77,901.07 469.19,901.10 472.61,901.13 476.03,901.17 479.45,901.20 482.87,901.23 486.29,901.26 489.71,901.28 493.13,901.30 496.55,901.30 499.98,901.23 503.40,901.05 506.82,900.79 510.24,900.50 513.66,900.21 517.08,899.95 520.50,899.77 523.92,899.70 527.34,900.03 530.76,900.83 534.18,901.81 537.60,902.70" fill="none" stroke="#E41A1C" stroke-width="2.0" stroke-linejoin="round"/>
<polyline points="86.10,699.10 89.52,699.27 92.94,699.45 96.36,699.62 99.78,699.79 103.20,699.97 106.62,700.14 110.04,700.32 113.46,700.50 116.88,700.68 120.30,700.87 123.72,701.05 127.15,701.24 130.57,701.43 133.99,701.62 137.41,701.81 140.83,702.00 144.25,702.19 147.67,702.37 151.09,702.55 154.51,702.74 157.93,702.93 161.35,703.14 164.77,703.36 168.19,703.60 171.61,703.88 175.03,704.20 178.45,704.55 181.87,704.92 185.29,705.31 188.71,705.69 192.13,706.05 195.55,706.40 198.97,706.73 202.40,707.07 205.82,707.41 209.24,707.74 212.66,708.06 216.08,708.36 219.50,708.64 222.92,708.90 226.34,709.13 229.76,709.34 233.18,709.53 236.60,709.72 240.02,709.90 243.44,710.09 246.86,710.28 250.28,710.50 253.70,710.75 257.12,711.02 260.54,711.31 263.96,711.61 267.38,711.90 270.80,712.17 274.23,712.40 277.65,712.60 281.07,712.77 284.49,712.95 287.91,713.11 291.33,713.27 294.75,713.40 298.17,713.51 301.59,713.58 305.01,713.60 308.43,713.54 311.85,713.38 315.27,713.15 318.69,712.88 322.11,712.60 325.53,712.34 328.95,712.13 332.37,712.00 335.79,711.92 339.21,711.85 342.63,711.78 346.05,711.72 349.48,711.67 352.90,711.63 356.32,711.61 359.74,711.60 363.16,711.61 366.58,711.65 370.00,711.70 373.42,711.77 376.84,711.83 380.26,711.90 383.68,711.96 387.10,712.00 390.52,712.03 393.94,712.07 397.36,712.10 400.78,712.13 404.20,712.16 407.62,712.18 411.04,712.20 414.46,712.20 417.88,712.20 421.30,712.20 424.73,712.20 428.15,712.20 431.57,712.20 434.99,712.20 438.41,712.20 441.83,712.20 445.25,712.19 448.67,712.17 452.09,712.14 455.51,712.10 458.93,712.06 462.35,712.03 465.77,712.01 469.19,712.00 472.61,712.04 476.03,712.15 479.45,712.31 482.87,712.51 486.29,712.73 489.71,712.97 493.13,713.19 496.55,713.40 499.98,713.59 503.40,713.76 506.82,713.94 510.24,714.12 513.66,714.33 517.08,714.55 520.50,714.80 523.92,715.10 527.34,715.51 530.76,716.05 534.18,716.64 537.60,717.20" fill="none" stroke="#377EB8" stroke-width="2.0" stroke-linejoin="round"/>
<polyline points="86.10,973.50 89.52,973.71 92.94,973.93 96.36,974.16 99.78,974.38 103.20,974.59 106.62,974.79 110.04,974.96 113.46,975.10 116.88,975.22 120.30,975.34 123.72,975.46 127.15,975.57 130.57,975.68 133.99,975.78 137.41,975.87 140.83,975.95 144.25,976.01 147.67,976.06 151.09,976.09 154.51,976.10 157.93,976.10 161.35,976.09 164.77,976.08 168.19,976.07 171.61,976.05 175.03,976.03 178.45,976.00 181.87,975.98 185.29,975.95 188.71,975.92 192.13,975.88 195.55,975.84 198.97,975.81 202.40,975.77 205.82,975.72 209.24,975.68 212.66,975.64 216.08,975.59 219.50,975.55 222.92,975.50 226.34,975.44 229.76,975.37 233.18,975.28 236.60,975.17 240.02,975.06 243.44,974.93 246.86,974.80 250.28,974.66 253.70,974.52 257.12,974.38 260.54,974.25 263.96,974.12 267.38,973.99 270.80,973.87 274.23,973.77 277.65,973.68 281.07,973.60 284.49,973.55 287.91,973.51 291.33,973.50 294.75,973.50 298.17,973.51 301.59,973.51 305.01,973.52 308.43,973.53 311.85,973.54 315.27,973.56 318.69,973.58 322.11,973.59 325.53,973.61 328.95,973.64 332.37,973.66 335.79,973.69 339.21,973.71 342.63,973.74 346.05,973.77 349.48,973.80 352.90,973.83 356.32,973.87 359.74,973.90 363.16,973.94 366.58,974.00 370.00,974.06 373.42,974.14 376.84,974.23 380.26,974.33 383.68,974.43 387.10,974.54 390.52,974.66 393.94,974.78 397.36,974.90 400.78,975.02 404.20,975.14 407.62,975.26 411.04,975.38 414.46,975.50 417.88,975.64 421.30,975.81 424.73,975.94 428.15,976.00 431.57,975.91 434.99,975.67 438.41,975.34 441.83,975.00 445.25,974.57 448.67,974.02 452.09,973.46 455.51,973.00 458.93,972.64 462.35,972.32 465.77,972.04 469.19,971.80 472.61,971.59 476.03,971.40 479.45,971.23 482.87,971.07 486.29,970.92 489.71,970.78 493.13,970.64 496.55,970.50 499.98,970.36 503.40,970.23 506.82,970.10 510.24,969.97 513.66,969.85 517.08,969.73 520.50,969.61 523.92,969.50 527.34,969.39 530.76,969.30 534.18,969.20 537.60,969.10" fill="none" stroke="#4DAF4A" stroke-width="2.0" stroke-linejoin="round"/>
<polyline points="86.10,855.40 89.52,854.71 92.94,854.01 96.36,853.30 99.78,852.59 103.20,851.90 106.62,851.23 110.04,850.59 113.46,850.00 116.88,849.45 120.30,848.93 123.72,848.45 127.15,848.00 130.57,847.59 133.99,847.22 137.41,846.86 140.83,846.50 144.25,846.13 147.67,845.78 151.09,845.43 154.51,845.08 157.93,844.71 161.35,844.33 164.77,843.93 168.19,843.50 171.61,843.00 175.03,842.42 178.45,841.80 181.87,841.16 185.29,840.53 188.71,839.94 192.13,839.42 195.55,839.00 198.97,838.64 202.40,838.27 205.82,837.92 209.24,837.59 212.66,837.31 216.08,837.09 219.50,836.95 222.92,836.90 226.34,836.91 229.76,836.92 233.18,836.95 236.60,836.98 240.02,837.03 243.44,837.08 246.86,837.14 250.28,837.20 253.70,837.32 257.12,837.55 260.54,837.85 263.96,838.21 267.38,838.60 270.80,839.02 274.23,839.42 277.65,839.80 281.07,840.16 284.49,840.52 287.91,840.90 291.33,841.28 294.75,841.68 298.17,842.09 301.59,842.53 305.01,843.00 308.43,843.51 311.85,844.09 315.27,844.70 318.69,845.34 322.11,845.99 325.53,846.62 328.95,847.23 332.37,847.80 335.79,848.42 339.21,849.07 342.63,849.59 346.05,849.80 349.48,849.80 352.90,849.80 356.32,849.80 359.74,849.80 363.16,849.64 366.58,849.20 370.00,848.53 373.42,847.70 376.84,846.75 380.26,845.75 383.68,844.74 387.10,843.80 390.52,842.86 393.94,841.84 397.36,840.76 400.78,839.63 404.20,838.47 407.62,837.28 411.04,836.09 414.46,834.90 417.88,833.72 421.30,832.54 424.73,831.35 428.15,830.13 431.57,828.89 434.99,827.61 438.41,826.28 441.83,824.90 445.25,823.45 448.67,821.93 452.09,820.35 455.51,818.73 458.93,817.07 462.35,815.38 465.77,813.69 469.19,812.00 472.61,810.22 476.03,808.36 479.45,806.57 482.87,805.00 486.29,803.68 489.71,802.49 493.13,801.39 496.55,800.30 499.98,799.22 503.40,798.17 506.82,797.16 510.24,796.20 513.66,795.15 517.08,794.04 520.50,793.16 523.92,792.80 527.34,793.00 530.76,793.48 534.18,794.07 537.60,794.60" fill="none" stroke="#984EA3" stroke-width="2.0" stroke-linejoin="round"/>
<polygon points="86.10,744.00 89.52,743.47 92.94,742.88 96.36,742.28 99.78,741.69 103.20,741.13 106.62,740.65 110.04,740.26 113.46,740.00 116.88,739.82 120.30,739.66 123.72,739.54 127.15,739.50 130.57,739.63 133.99,739.98 137.41,740.46 140.83,741.00 144.25,741.71 147.67,742.67 151.09,743.80 154.51,745.00 157.93,746.32 161.35,747.82 164.77,749.41 168.19,751.00 171.61,752.57 175.03,754.16 178.45,755.77 181.87,757.40 185.29,759.04 188.71,760.69 192.13,762.34 195.55,764.00 198.97,765.66 202.40,767.34 205.82,769.03 209.24,770.72 212.66,772.42 216.08,774.11 219.50,775.81 222.92,777.50 226.34,779.16 229.76,780.78 233.18,782.39 236.60,784.01 240.02,785.65 243.44,787.35 246.86,789.13 250.28,791.00 253.70,793.04 257.12,795.28 260.54,797.63 263.96,800.05 267.38,802.46 270.80,804.80 274.23,807.00 277.65,809.00 281.07,810.80 284.49,812.46 287.91,814.03 291.33,815.55 294.75,817.05 298.17,818.59 301.59,820.19 305.01,821.90 308.43,823.83 311.85,825.98 315.27,828.25 318.69,830.54 322.11,832.74 325.53,834.76 328.95,836.48 332.37,837.80 335.79,838.84 339.21,839.78 342.63,840.62 346.05,841.39 349.48,842.08 352.90,842.71 356.32,843.28 359.74,843.80 363.16,844.26 366.58,844.67 370.00,845.03 373.42,845.37 376.84,845.70 380.26,846.04 383.68,846.40 387.10,846.80 390.52,847.25 393.94,847.75 397.36,848.27 400.78,848.80 404.20,849.33 407.62,849.85 411.04,850.35 414.46,850.80 417.88,851.22 421.30,851.64 424.73,852.04 428.15,852.43 431.57,852.80 434.99,853.15 438.41,853.49 441.83,853.80 445.25,854.10 448.67,854.41 452.09,854.70 455.51,854.98 458.93,855.24 462.35,855.47 465.77,855.66 469.19,855.80 472.61,855.91 476.03,856.02 479.45,856.13 482.87,856.22 486.29,856.29 489.71,856.35 493.13,856.39 496.55,856.40 499.98,856.36 503.40,856.24 506.82,856.08 510.24,855.90 513.66,855.72 517.08,855.56 520.50,855.44 523.92,855.40 527.34,855.66 530.76,856.30 534.18,857.09 537.60,857.80 537.60,938.60 534.18,938.21 530.76,937.79 527.34,937.43 523.92,937.20 520.50,937.07 517.08,936.96 513.66,936.85 510.24,936.77 506.82,936.70 503.40,936.64 499.98,936.61 496.55,936.60 493.13,936.60 489.71,936.60 486.29,936.60 482.87,936.60 479.45,936.60 476.03,936.60 472.61,936.60 469.19,936.60 465.77,936.60 462.35,936.60 458.93,936.60 455.51,936.60 452.09,936.60 448.67,936.60 445.25,936.60 441.83,936.60 438.41,936.56 434.99,936.47 431.57,936.32 428.15,936.13 424.73,935.91 421.30,935.67 417.88,935.43 414.46,935.20 411.04,934.95 407.62,934.64 404.20,934.31 400.78,933.96 397.36,933.59 393.94,933.24 390.52,932.90 387.10,932.60 383.68,932.34 380.26,932.10 376.84,931.89 373.42,931.67 370.00,931.45 366.58,931.21 363.16,930.93 359.74,930.60 356.32,930.20 352.90,929.71 349.48,929.14 346.05,928.51 342.63,927.83 339.21,927.11 335.79,926.36 332.37,925.60 328.95,924.77 325.53,923.83 322.11,922.82 318.69,921.76 315.27,920.68 311.85,919.60 308.43,918.57 305.01,917.60 301.59,916.71 298.17,915.88 294.75,915.08 291.33,914.28 287.91,913.47 284.49,912.62 281.07,911.71 277.65,910.70 274.23,909.57 270.80,908.30 267.38,906.94 263.96,905.51 260.54,904.05 257.12,902.57 253.70,901.11 250.28,899.70 246.86,898.30 243.44,896.87 240.02,895.42 236.60,893.98 233.18,892.57 229.76,891.21 226.34,889.91 222.92,888.70 219.50,887.57 216.08,886.49 212.66,885.46 209.24,884.47 205.82,883.50 202.40,882.56 198.97,881.63 195.55,880.70 192.13,879.77 188.71,878.85 185.29,877.94 181.87,877.05 178.45,876.18 175.03,875.35 171.61,874.55 168.19,873.80 164.77,873.03 161.35,872.20 157.93,871.37 154.51,870.58 151.09,869.87 147.67,869.31 144.25,868.94 140.83,868.80 137.41,868.85 133.99,869.00 130.57,869.22 127.15,869.50 123.72,869.82 120.30,870.15 116.88,870.48 113.46,870.80 110.04,871.12 106.62,871.47 103.20,871.84 99.78,872.22 96.36,872.62 92.94,873.02 89.52,873.42 86.10,873.80" fill="#E41A1C" fill-opacity="0.2"/>
<polygon points="86.10,596.30 89.52,596.54 92.94,596.78 96.36,597.01 99.78,597.24 103.20,597.48 106.62,597.74 110.04,598.01 113.46,598.30 116.88,598.62 120.30,598.98 123.72,599.36 127.15,599.76 130.57,600.18 133.99,600.61 137.41,601.05 140.83,601.50 144.25,601.96 147.67,602.43 151.09,602.92 154.51,603.42 157.93,603.94 161.35,604.48 164.77,605.03 168.19,605.60 171.61,606.20 175.03,606.83 178.45,607.49 181.87,608.17 185.29,608.86 188.71,609.55 192.13,610.23 195.55,610.90 198.97,611.58 202.40,612.28 205.82,613.00 209.24,613.71 212.66,614.40 216.08,615.03 219.50,615.61 222.92,616.10 226.34,616.52 229.76,616.90 233.18,617.25 236.60,617.57 240.02,617.88 243.44,618.18 246.86,618.48 250.28,618.80 253.70,619.13 257.12,619.48 260.54,619.83 263.96,620.17 267.38,620.50 270.80,620.80 274.23,621.07 277.65,621.30 281.07,621.51 284.49,621.72 287.91,621.92 291.33,622.10 294.75,622.26 298.17,622.39 301.59,622.47 305.01,622.50 308.43,622.43 311.85,622.23 315.27,621.94 318.69,621.59 322.11,621.20 325.53,620.82 328.95,620.48 332.37,620.20 335.79,619.96 339.21,619.71 342.63,619.47 346.05,619.24 349.48,619.03 352.90,618.85 356.32,618.70 359.74,618.60 363.16,618.53 366.58,618.47 370.00,618.42 373.42,618.38 376.84,618.34 380.26,618.30 383.68,618.25 387.10,618.20 390.52,618.14 393.94,618.08 397.36,618.02 400.78,617.96 404.20,617.90 407.62,617.83 411.04,617.77 414.46,617.70 417.88,617.62 421.30,617.53 424.73,617.43 428.15,617.33 431.57,617.24 434.99,617.17 438.41,617.12 441.83,617.10 445.25,617.14 448.67,617.24 452.09,617.38 455.51,617.55 458.93,617.74 462.35,617.92 465.77,618.08 469.19,618.20 472.61,618.29 476.03,618.38 479.45,618.46 482.87,618.54 486.29,618.61 489.71,618.68 493.13,618.74 496.55,618.80 499.98,618.85 503.40,618.89 506.82,618.92 510.24,618.96 513.66,618.99 517.08,619.04 520.50,619.11 523.92,619.20 527.34,619.60 530.76,620.41 534.18,621.40 537.60,622.30 537.60,798.70 534.18,798.19 530.76,797.66 527.34,797.17 523.92,796.80 520.50,796.52 517.08,796.28 513.66,796.07 510.24,795.88 506.82,795.70 503.40,795.53 499.98,795.37 496.55,795.20 493.13,795.03 489.71,794.86 486.29,794.70 482.87,794.54 479.45,794.39 476.03,794.25 472.61,794.12 469.19,794.00 465.77,793.89 462.35,793.80 458.93,793.71 455.51,793.62 452.09,793.54 448.67,793.46 445.25,793.38 441.83,793.30 438.41,793.22 434.99,793.13 431.57,793.04 428.15,792.96 424.73,792.88 421.30,792.81 417.88,792.75 414.46,792.70 411.04,792.66 407.62,792.63 404.20,792.59 400.78,792.56 397.36,792.54 393.94,792.52 390.52,792.50 387.10,792.50 383.68,792.50 380.26,792.51 376.84,792.52 373.42,792.53 370.00,792.54 366.58,792.56 363.16,792.58 359.74,792.60 356.32,792.64 352.90,792.72 349.48,792.82 346.05,792.93 342.63,793.05 339.21,793.16 335.79,793.24 332.37,793.30 328.95,793.34 325.53,793.38 322.11,793.41 318.69,793.44 315.27,793.46 311.85,793.48 308.43,793.50 305.01,793.50 301.59,793.46 298.17,793.37 294.75,793.22 291.33,793.04 287.91,792.85 284.49,792.65 281.07,792.46 277.65,792.30 274.23,792.16 270.80,792.02 267.38,791.88 263.96,791.74 260.54,791.60 257.12,791.47 253.70,791.33 250.28,791.20 246.86,791.08 243.44,790.96 240.02,790.85 236.60,790.74 233.18,790.62 229.76,790.50 226.34,790.36 222.92,790.20 219.50,790.01 216.08,789.78 212.66,789.52 209.24,789.24 205.82,788.95 202.40,788.66 198.97,788.37 195.55,788.10 192.13,787.83 188.71,787.54 185.29,787.25 181.87,786.96 178.45,786.68 175.03,786.42 171.61,786.19 168.19,786.00 164.77,785.83 161.35,785.65 157.93,785.49 154.51,785.33 151.09,785.20 147.67,785.09 144.25,785.02 140.83,785.00 137.41,785.03 133.99,785.11 130.57,785.23 127.15,785.38 123.72,785.54 120.30,785.70 116.88,785.86 113.46,786.00 110.04,786.12 106.62,786.25 103.20,786.38 99.78,786.50 96.36,786.62 92.94,786.75 89.52,786.88 86.10,787.00" fill="#377EB8" fill-opacity="0.2"/>
<polygon points="86.10,953.10 89.52,953.41 92.94,953.74 96.36,954.08 99.78,954.41 103.20,954.73 106.62,955.02 110.04,955.28 113.46,955.50 116.88,955.69 120.30,955.87 123.72,956.05 127.15,956.22 130.57,956.38 133.99,956.53 137.41,956.67 140.83,956.79 144.25,956.89 147.67,956.98 151.09,957.05 154.51,957.10 157.93,957.14 161.35,957.17 164.77,957.20 168.19,957.24 171.61,957.27 175.03,957.30 178.45,957.32 181.87,957.35 185.29,957.37 188.71,957.39 192.13,957.41 195.55,957.43 198.97,957.45 202.40,957.46 205.82,957.47 209.24,957.48 212.66,957.49 216.08,957.50 219.50,957.50 222.92,957.50 226.34,957.50 229.76,957.49 233.18,957.48 236.60,957.47 240.02,957.46 243.44,957.44 246.86,957.43 250.28,957.41 253.70,957.38 257.12,957.36 260.54,957.34 263.96,957.31 267.38,957.28 270.80,957.26 274.23,957.23 277.65,957.20 281.07,957.18 284.49,957.15 287.91,957.12 291.33,957.10 294.75,957.07 298.17,957.04 301.59,957.01 305.01,956.98 308.43,956.94 311.85,956.90 315.27,956.86 318.69,956.82 322.11,956.78 325.53,956.74 328.95,956.70 332.37,956.67 335.79,956.63 339.21,956.60 342.63,956.57 346.05,956.55 349.48,956.53 352.90,956.51 356.32,956.50 359.74,956.50 363.16,956.52 366.58,956.57 370.00,956.65 373.42,956.75 376.84,956.87 380.26,957.01 383.68,957.15 387.10,957.30 390.52,957.45 393.94,957.59 397.36,957.73 400.78,957.85 404.20,957.95 407.62,958.03 411.04,958.08 414.46,958.10 417.88,958.06 421.30,957.93 424.73,957.75 428.15,957.52 431.57,957.27 434.99,957.00 438.41,956.74 441.83,956.50 445.25,956.27 448.67,956.03 452.09,955.78 455.51,955.53 458.93,955.27 462.35,955.01 465.77,954.75 469.19,954.50 472.61,954.24 476.03,953.96 479.45,953.68 482.87,953.41 486.29,953.14 489.71,952.89 493.13,952.68 496.55,952.50 499.98,952.35 503.40,952.22 506.82,952.10 510.24,951.98 513.66,951.88 517.08,951.78 520.50,951.68 523.92,951.59 527.34,951.50 530.76,951.40 534.18,951.30 537.60,951.20 537.60,983.10 534.18,983.13 530.76,983.16 527.34,983.19 523.92,983.21 520.50,983.23 517.08,983.26 513.66,983.29 510.24,983.32 506.82,983.35 503.40,983.40 499.98,983.44 496.55,983.50 493.13,983.59 489.71,983.73 486.29,983.91 482.87,984.12 479.45,984.35 476.03,984.60 472.61,984.85 469.19,985.10 465.77,985.37 462.35,985.68 458.93,986.02 455.51,986.36 452.09,986.70 448.67,987.02 445.25,987.29 441.83,987.50 438.41,987.68 434.99,987.85 431.57,988.02 428.15,988.18 424.73,988.31 421.30,988.41 417.88,988.48 414.46,988.50 411.04,988.48 407.62,988.43 404.20,988.35 400.78,988.24 397.36,988.11 393.94,987.97 390.52,987.81 387.10,987.65 383.68,987.47 380.26,987.30 376.84,987.14 373.42,986.98 370.00,986.83 366.58,986.70 363.16,986.59 359.74,986.50 356.32,986.43 352.90,986.35 349.48,986.28 346.05,986.21 342.63,986.14 339.21,986.07 335.79,986.00 332.37,985.94 328.95,985.88 325.53,985.82 322.11,985.76 318.69,985.71 315.27,985.67 311.85,985.62 308.43,985.59 305.01,985.56 301.59,985.53 298.17,985.51 294.75,985.50 291.33,985.50 287.91,985.51 284.49,985.54 281.07,985.58 277.65,985.64 274.23,985.72 270.80,985.81 267.38,985.90 263.96,986.01 260.54,986.13 257.12,986.25 253.70,986.38 250.28,986.51 246.86,986.64 243.44,986.77 240.02,986.91 236.60,987.04 233.18,987.16 229.76,987.28 226.34,987.40 222.92,987.50 219.50,987.60 216.08,987.72 212.66,987.84 209.24,987.96 205.82,988.09 202.40,988.23 198.97,988.36 195.55,988.49 192.13,988.62 188.71,988.75 185.29,988.87 181.87,988.99 178.45,989.10 175.03,989.19 171.61,989.28 168.19,989.36 164.77,989.42 161.35,989.46 157.93,989.49 154.51,989.50 151.09,989.50 147.67,989.48 144.25,989.46 140.83,989.43 137.41,989.39 133.99,989.35 130.57,989.30 127.15,989.24 123.72,989.19 120.30,989.12 116.88,989.06 113.46,989.00 110.04,988.93 106.62,988.86 103.20,988.80 99.78,988.73 96.36,988.67 92.94,988.61 89.52,988.55 86.10,988.50" fill="#4DAF4A" fill-opacity="0.2"/>
<polygon points="86.10,825.90 89.52,825.13 92.94,824.34 96.36,823.54 99.78,822.75 103.20,821.97 106.62,821.23 110.04,820.54 113.46,819.90 116.88,819.32 120.30,818.79 123.72,818.28 127.15,817.80 130.57,817.33 133.99,816.86 137.41,816.39 140.83,815.90 144.25,815.40 147.67,814.90 151.09,814.40 154.51,813.90 157.93,813.40 161.35,812.90 164.77,812.40 168.19,811.90 171.61,811.37 175.03,810.79 178.45,810.19 181.87,809.60 185.29,809.05 188.71,808.56 192.13,808.17 195.55,807.90 198.97,807.70 202.40,807.52 205.82,807.35 209.24,807.20 212.66,807.08 216.08,806.98 219.50,806.92 222.92,806.90 226.34,806.90 229.76,806.90 233.18,806.90 236.60,806.90 240.02,806.90 243.44,806.90 246.86,806.90 250.28,806.90 253.70,806.95 257.12,807.08 260.54,807.29 263.96,807.55 267.38,807.86 270.80,808.20 274.23,808.55 277.65,808.90 281.07,809.29 284.49,809.76 287.91,810.29 291.33,810.88 294.75,811.51 298.17,812.16 301.59,812.83 305.01,813.50 308.43,814.24 311.85,815.08 315.27,815.98 318.69,816.91 322.11,817.80 325.53,818.63 328.95,819.34 332.37,819.90 335.79,820.37 339.21,820.83 342.63,821.26 346.05,821.66 349.48,822.00 352.90,822.27 356.32,822.44 359.74,822.50 363.16,822.42 366.58,822.18 370.00,821.82 373.42,821.35 376.84,820.80 380.26,820.19 383.68,819.55 387.10,818.90 390.52,818.15 393.94,817.23 397.36,816.16 400.78,814.97 404.20,813.68 407.62,812.32 411.04,810.92 414.46,809.50 417.88,808.00 421.30,806.36 424.73,804.61 428.15,802.77 431.57,800.89 434.99,798.97 438.41,797.07 441.83,795.20 445.25,793.31 448.67,791.34 452.09,789.34 455.51,787.33 458.93,785.35 462.35,783.45 465.77,781.65 469.19,780.00 472.61,778.48 476.03,777.06 479.45,775.70 482.87,774.40 486.29,773.12 489.71,771.86 493.13,770.60 496.55,769.30 499.98,768.01 503.40,766.75 506.82,765.46 510.24,764.10 513.66,762.34 517.08,760.29 520.50,758.60 523.92,757.90 527.34,758.12 530.76,758.65 534.18,759.31 537.60,759.90 537.60,826.90 534.18,826.60 530.76,826.27 527.34,826.01 523.92,825.90 520.50,826.03 517.08,826.38 513.66,826.92 510.24,827.60 506.82,828.38 503.40,829.22 499.98,830.07 496.55,830.90 493.13,831.76 489.71,832.71 486.29,833.76 482.87,834.87 479.45,836.05 476.03,837.27 472.61,838.53 469.19,839.80 465.77,841.14 462.35,842.57 458.93,844.09 455.51,845.64 452.09,847.22 448.67,848.79 445.25,850.33 441.83,851.80 438.41,853.23 434.99,854.64 431.57,856.04 428.15,857.43 424.73,858.79 421.30,860.15 417.88,861.48 414.46,862.80 411.04,864.15 407.62,865.54 404.20,866.95 400.78,868.33 397.36,869.65 393.94,870.86 390.52,871.92 387.10,872.80 383.68,873.59 380.26,874.38 376.84,875.13 373.42,875.83 370.00,876.42 366.58,876.89 363.16,877.19 359.74,877.30 356.32,877.29 352.90,877.27 349.48,877.22 346.05,877.17 342.63,877.09 339.21,877.01 335.79,876.91 332.37,876.80 328.95,876.49 325.53,875.86 322.11,875.00 318.69,874.01 315.27,872.97 311.85,871.97 308.43,871.12 305.01,870.50 301.59,870.02 298.17,869.55 294.75,869.09 291.33,868.68 287.91,868.32 284.49,868.04 281.07,867.86 277.65,867.80 274.23,867.80 270.80,867.80 267.38,867.80 263.96,867.80 260.54,867.80 257.12,867.80 253.70,867.80 250.28,867.80 246.86,867.80 243.44,867.80 240.02,867.80 236.60,867.80 233.18,867.80 229.76,867.80 226.34,867.80 222.92,867.80 219.50,867.89 216.08,868.11 212.66,868.43 209.24,868.80 205.82,869.17 202.40,869.49 198.97,869.71 195.55,869.80 192.13,869.80 188.71,869.80 185.29,869.80 181.87,869.80 178.45,869.80 175.03,869.80 171.61,869.80 168.19,869.80 164.77,869.82 161.35,869.89 157.93,869.98 154.51,870.11 151.09,870.26 147.67,870.43 144.25,870.61 140.83,870.80 137.41,871.01 133.99,871.26 130.57,871.56 127.15,871.91 123.72,872.31 120.30,872.75 116.88,873.25 113.46,873.80 110.04,874.53 106.62,875.53 103.20,876.74 99.78,878.09 96.36,879.52 92.94,880.98 89.52,882.39 86.10,883.70" fill="#984EA3" fill-opacity="0.2"/>
</g>
<rect x="86.1" y="595.3" width="451.5" height="444.5" fill="none" stroke="#707070" stroke-width="1.3"/>
<path d="M86.1,595.3 V1039.8 H537.6" fill="none" stroke="#5e5e5e" stroke-width="1.6"/>
<path d="M86.10,1039.8 v9.2 M154.51,1039.8 v9.2 M222.92,1039.8 v9.2 M291.33,1039.8 v9.2 M359.74,1039.8 v9.2 M428.15,1039.8 v9.2 M496.55,1039.8 v9.2" stroke="#3a3a3a" stroke-width="1.2" fill="none"/>
<g clip-path="url(#clip4)">
<polyline points="653.40,967.60 656.82,967.31 660.25,967.00 663.67,966.67 667.09,966.36 670.52,966.06 673.94,965.79 677.36,965.57 680.79,965.40 684.21,965.27 687.63,965.14 691.06,965.02 694.48,964.92 697.91,964.83 701.33,964.76 704.75,964.72 708.18,964.70 711.60,964.73 715.02,964.81 718.45,964.94 721.87,965.11 725.29,965.31 728.72,965.53 732.14,965.76 735.56,966.00 738.99,966.28 742.41,966.65 745.83,967.08 749.26,967.56 752.68,968.05 756.10,968.56 759.53,969.05 762.95,969.50 766.38,969.92 769.80,970.33 773.22,970.73 776.65,971.13 780.07,971.54 783.49,971.97 786.92,972.42 790.34,972.90 793.76,973.44 797.19,974.03 800.61,974.66 804.03,975.31 807.46,975.97 810.88,976.61 814.30,977.23 817.73,977.80 821.15,978.34 824.57,978.88 828.00,979.40 831.42,979.91 834.84,980.40 838.27,980.87 841.69,981.30 845.12,981.70 848.54,982.07 851.96,982.40 855.39,982.72 858.81,983.02 862.23,983.32 865.66,983.61 869.08,983.90 872.50,984.20 875.93,984.51 879.35,984.82 882.77,985.13 886.20,985.44 889.62,985.75 893.04,986.04 896.47,986.33 899.89,986.60 903.31,986.86 906.74,987.11 910.16,987.35 913.58,987.58 917.01,987.81 920.43,988.04 923.86,988.27 927.28,988.50 930.70,988.75 934.13,989.01 937.55,989.28 940.97,989.55 944.40,989.80 947.82,990.01 951.24,990.19 954.67,990.30 958.09,990.38 961.51,990.45 964.94,990.52 968.36,990.58 971.78,990.63 975.21,990.67 978.63,990.69 982.05,990.70 985.48,990.68 988.90,990.63 992.33,990.56 995.75,990.46 999.17,990.35 1002.60,990.24 1006.02,990.12 1009.44,990.00 1012.87,989.88 1016.29,989.75 1019.71,989.61 1023.14,989.46 1026.56,989.29 1029.98,989.11 1033.41,988.91 1036.83,988.70 1040.25,988.44 1043.68,988.13 1047.10,987.77 1050.52,987.39 1053.95,987.01 1057.37,986.64 1060.79,986.29 1064.22,986.00 1067.64,985.71 1071.07,985.42 1074.49,985.19 1077.91,985.10 1081.34,985.12 1084.76,985.16 1088.18,985.22 1091.61,985.30 1095.03,985.46 1098.45,985.72 1101.88,986.02 1105.30,986.30" fill="none" stroke="#E41A1C" stroke-width="2.0" stroke-linejoin="round"/>
<polyline points="653.40,1019.50 656.82,1019.51 660.25,1019.52 663.67,1019.53 667.09,1019.54 670.52,1019.55 673.94,1019.56 677.36,1019.57 680.79,1019.57 684.21,1019.58 687.63,1019.59 691.06,1019.60 694.48,1019.61 697.91,1019.62 701.33,1019.62 704.75,1019.63 708.18,1019.64 711.60,1019.65 715.02,1019.66 718.45,1019.67 721.87,1019.68 725.29,1019.68 728.72,1019.69 732.14,1019.70 735.56,1019.71 738.99,1019.72 742.41,1019.73 745.83,1019.74 749.26,1019.75 752.68,1019.76 756.10,1019.77 759.53,1019.78 762.95,1019.80 766.38,1019.81 769.80,1019.82 773.22,1019.83 776.65,1019.84 780.07,1019.86 783.49,1019.87 786.92,1019.89 790.34,1019.90 793.76,1019.92 797.19,1019.94 800.61,1019.96 804.03,1019.99 807.46,1020.01 810.88,1020.04 814.30,1020.08 817.73,1020.11 821.15,1020.14 824.57,1020.18 828.00,1020.21 831.42,1020.24 834.84,1020.28 838.27,1020.31 841.69,1020.34 845.12,1020.37 848.54,1020.40 851.96,1020.42 855.39,1020.44 858.81,1020.46 862.23,1020.48 865.66,1020.49 869.08,1020.50 872.50,1020.50 875.93,1020.50 879.35,1020.50 882.77,1020.50 886.20,1020.49 889.62,1020.49 893.04,1020.48 896.47,1020.48 899.89,1020.47 903.31,1020.46 906.74,1020.45 910.16,1020.45 913.58,1020.44 917.01,1020.43 920.43,1020.42 923.86,1020.41 927.28,1020.40 930.70,1020.39 934.13,1020.38 937.55,1020.37 940.97,1020.36 944.40,1020.35 947.82,1020.35 951.24,1020.34 954.67,1020.33 958.09,1020.32 961.51,1020.32 964.94,1020.31 968.36,1020.31 971.78,1020.30 975.21,1020.30 978.63,1020.30 982.05,1020.30 985.48,1020.30 988.90,1020.30 992.33,1020.30 995.75,1020.31 999.17,1020.31 1002.60,1020.32 1006.02,1020.32 1009.44,1020.33 1012.87,1020.33 1016.29,1020.34 1019.71,1020.35 1023.14,1020.36 1026.56,1020.37 1029.98,1020.38 1033.41,1020.39 1036.83,1020.40 1040.25,1020.41 1043.68,1020.42 1047.10,1020.43 1050.52,1020.45 1053.95,1020.46 1057.37,1020.47 1060.79,1020.49 1064.22,1020.50 1067.64,1020.52 1071.07,1020.54 1074.49,1020.57 1077.91,1020.60 1081.34,1020.63 1084.76,1020.67 1088.18,1020.71 1091.61,1020.75 1095.03,1020.79 1098.45,1020.83 1101.88,1020.87 1105.30,1020.90" fill="none" stroke="#377EB8" stroke-width="2.0" stroke-linejoin="round"/>
<polyline points="653.40,1012.00 656.82,1011.96 660.25,1011.91 663.67,1011.87 667.09,1011.83 670.52,1011.79 673.94,1011.75 677.36,1011.71 680.79,1011.67 684.21,1011.63 687.63,1011.59 691.06,1011.55 694.48,1011.50 697.91,1011.46 701.33,1011.41 704.75,1011.37 708.18,1011.32 711.60,1011.27 715.02,1011.21 718.45,1011.16 721.87,1011.10 725.29,1011.04 728.72,1010.98 732.14,1010.91 735.56,1010.84 738.99,1010.77 742.41,1010.69 745.83,1010.61 749.26,1010.52 752.68,1010.43 756.10,1010.33 759.53,1010.22 762.95,1010.10 766.38,1009.95 769.80,1009.74 773.22,1009.51 776.65,1009.26 780.07,1009.01 783.49,1008.79 786.92,1008.62 790.34,1008.50 793.76,1008.42 797.19,1008.35 800.61,1008.28 804.03,1008.22 807.46,1008.17 810.88,1008.13 814.30,1008.11 817.73,1008.10 821.15,1008.10 824.57,1008.10 828.00,1008.10 831.42,1008.10 834.84,1008.10 838.27,1008.10 841.69,1008.10 845.12,1008.10 848.54,1008.08 851.96,1008.04 855.39,1007.97 858.81,1007.90 862.23,1007.83 865.66,1007.76 869.08,1007.72 872.50,1007.70 875.93,1007.72 879.35,1007.76 882.77,1007.83 886.20,1007.90 889.62,1007.97 893.04,1008.04 896.47,1008.08 899.89,1008.10 903.31,1008.10 906.74,1008.10 910.16,1008.10 913.58,1008.10 917.01,1008.10 920.43,1008.10 923.86,1008.10 927.28,1008.10 930.70,1008.09 934.13,1008.05 937.55,1008.00 940.97,1007.93 944.40,1007.85 947.82,1007.77 951.24,1007.68 954.67,1007.60 958.09,1007.52 961.51,1007.43 964.94,1007.34 968.36,1007.24 971.78,1007.13 975.21,1007.00 978.63,1006.86 982.05,1006.70 985.48,1006.49 988.90,1006.21 992.33,1005.89 995.75,1005.52 999.17,1005.13 1002.60,1004.74 1006.02,1004.36 1009.44,1004.00 1012.87,1003.67 1016.29,1003.34 1019.71,1003.01 1023.14,1002.68 1026.56,1002.35 1029.98,1002.01 1033.41,1001.66 1036.83,1001.30 1040.25,1000.90 1043.68,1000.45 1047.10,999.98 1050.52,999.51 1053.95,999.06 1057.37,998.64 1060.79,998.28 1064.22,998.00 1067.64,997.77 1071.07,997.53 1074.49,997.32 1077.91,997.12 1081.34,996.95 1084.76,996.82 1088.18,996.73 1091.61,996.70 1095.03,996.72 1098.45,996.77 1101.88,996.84 1105.30,996.90" fill="none" stroke="#4DAF4A" stroke-width="2.0" stroke-linejoin="round"/>
<polyline points="653.40,782.50 667.09,773.80 680.79,768.40 694.48,763.60 708.18,759.70 721.87,757.50 735.56,756.40 749.26,756.40 762.95,754.90 776.65,754.20 790.34,753.80 804.03,756.40 817.73,759.20 831.42,761.80 845.12,762.90 858.81,760.10 872.50,760.80 886.20,763.00 899.89,767.30 913.58,772.80 927.28,774.50 940.97,773.90 954.67,770.60 968.36,765.80 982.05,759.70 995.75,751.00 1009.44,739.00 1023.14,727.10 1036.83,716.20 1050.52,704.20 1064.22,685.70 1077.91,667.20 1091.61,657.90 1105.30,659.60" fill="none" stroke="#984EA3" stroke-width="2.0" stroke-linejoin="round"/>
<polygon points="653.40,938.60 656.82,938.21 660.25,937.77 663.67,937.32 667.09,936.88 670.52,936.47 673.94,936.12 677.36,935.85 680.79,935.70 684.21,935.62 687.63,935.54 691.06,935.47 694.48,935.41 697.91,935.36 701.33,935.33 704.75,935.31 708.18,935.30 711.60,935.33 715.02,935.42 718.45,935.56 721.87,935.74 725.29,935.94 728.72,936.16 732.14,936.38 735.56,936.60 738.99,936.82 742.41,937.07 745.83,937.33 749.26,937.62 752.68,937.93 756.10,938.26 759.53,938.62 762.95,939.00 766.38,939.42 769.80,939.90 773.22,940.43 776.65,941.00 780.07,941.60 783.49,942.23 786.92,942.86 790.34,943.50 793.76,944.16 797.19,944.84 800.61,945.56 804.03,946.30 807.46,947.06 810.88,947.83 814.30,948.61 817.73,949.40 821.15,950.21 824.57,951.07 828.00,951.95 831.42,952.84 834.84,953.72 838.27,954.59 841.69,955.42 845.12,956.20 848.54,956.94 851.96,957.66 855.39,958.36 858.81,959.05 862.23,959.71 865.66,960.36 869.08,960.99 872.50,961.60 875.93,962.19 879.35,962.76 882.77,963.31 886.20,963.85 889.62,964.38 893.04,964.91 896.47,965.45 899.89,966.00 903.31,966.60 906.74,967.27 910.16,967.96 913.58,968.64 917.01,969.27 920.43,969.81 923.86,970.24 927.28,970.50 930.70,970.65 934.13,970.78 937.55,970.89 940.97,970.98 944.40,971.06 947.82,971.13 951.24,971.21 954.67,971.30 958.09,971.40 961.51,971.51 964.94,971.63 968.36,971.74 971.78,971.84 975.21,971.93 978.63,971.98 982.05,972.00 985.48,971.98 988.90,971.93 992.33,971.86 995.75,971.76 999.17,971.65 1002.60,971.54 1006.02,971.42 1009.44,971.30 1012.87,971.18 1016.29,971.04 1019.71,970.89 1023.14,970.73 1026.56,970.56 1029.98,970.38 1033.41,970.19 1036.83,970.00 1040.25,969.78 1043.68,969.52 1047.10,969.25 1050.52,968.96 1053.95,968.68 1057.37,968.41 1060.79,968.18 1064.22,968.00 1067.64,967.84 1071.07,967.68 1074.49,967.53 1077.91,967.39 1081.34,967.28 1084.76,967.18 1088.18,967.12 1091.61,967.10 1095.03,967.27 1098.45,967.70 1101.88,968.23 1105.30,968.70 1105.30,1001.70 1101.88,1001.58 1098.45,1001.45 1095.03,1001.34 1091.61,1001.30 1088.18,1001.30 1084.76,1001.30 1081.34,1001.30 1077.91,1001.30 1074.49,1001.30 1071.07,1001.30 1067.64,1001.30 1064.22,1001.30 1060.79,1001.36 1057.37,1001.52 1053.95,1001.76 1050.52,1002.05 1047.10,1002.37 1043.68,1002.71 1040.25,1003.02 1036.83,1003.30 1033.41,1003.56 1029.98,1003.85 1026.56,1004.13 1023.14,1004.42 1019.71,1004.69 1016.29,1004.94 1012.87,1005.14 1009.44,1005.30 1006.02,1005.42 1002.60,1005.54 999.17,1005.64 995.75,1005.73 992.33,1005.81 988.90,1005.88 985.48,1005.94 982.05,1006.00 978.63,1006.05 975.21,1006.11 971.78,1006.16 968.36,1006.20 964.94,1006.24 961.51,1006.27 958.09,1006.29 954.67,1006.30 951.24,1006.28 947.82,1006.23 944.40,1006.15 940.97,1006.04 937.55,1005.92 934.13,1005.79 930.70,1005.64 927.28,1005.50 923.86,1005.33 920.43,1005.12 917.01,1004.88 913.58,1004.61 910.16,1004.33 906.74,1004.04 903.31,1003.76 899.89,1003.50 896.47,1003.25 893.04,1002.99 889.62,1002.73 886.20,1002.47 882.77,1002.22 879.35,1001.97 875.93,1001.73 872.50,1001.50 869.08,1001.28 865.66,1001.08 862.23,1000.87 858.81,1000.68 855.39,1000.48 851.96,1000.29 848.54,1000.10 845.12,999.90 841.69,999.70 838.27,999.51 834.84,999.33 831.42,999.14 828.00,998.94 824.57,998.74 821.15,998.53 817.73,998.30 814.30,998.05 810.88,997.79 807.46,997.51 804.03,997.22 800.61,996.92 797.19,996.61 793.76,996.31 790.34,996.00 786.92,995.68 783.49,995.35 780.07,995.01 776.65,994.67 773.22,994.33 769.80,994.00 766.38,993.69 762.95,993.40 759.53,993.13 756.10,992.87 752.68,992.62 749.26,992.38 745.83,992.14 742.41,991.92 738.99,991.71 735.56,991.50 732.14,991.29 728.72,991.05 725.29,990.82 721.87,990.60 718.45,990.40 715.02,990.24 711.60,990.14 708.18,990.10 704.75,990.10 701.33,990.10 697.91,990.10 694.48,990.10 691.06,990.10 687.63,990.10 684.21,990.10 680.79,990.10 677.36,990.17 673.94,990.36 670.52,990.65 667.09,991.00 663.67,991.39 660.25,991.79 656.82,992.17 653.40,992.50" fill="#E41A1C" fill-opacity="0.2"/>
<polygon points="653.40,1008.10 656.82,1008.10 660.25,1008.10 663.67,1008.09 667.09,1008.09 670.52,1008.09 673.94,1008.09 677.36,1008.09 680.79,1008.09 684.21,1008.08 687.63,1008.08 691.06,1008.08 694.48,1008.08 697.91,1008.07 701.33,1008.07 704.75,1008.07 708.18,1008.07 711.60,1008.07 715.02,1008.06 718.45,1008.06 721.87,1008.06 725.29,1008.06 728.72,1008.05 732.14,1008.05 735.56,1008.05 738.99,1008.05 742.41,1008.05 745.83,1008.04 749.26,1008.04 752.68,1008.04 756.10,1008.04 759.53,1008.04 762.95,1008.03 766.38,1008.03 769.80,1008.03 773.22,1008.03 776.65,1008.03 780.07,1008.02 783.49,1008.02 786.92,1008.02 790.34,1008.02 793.76,1008.02 797.19,1008.02 800.61,1008.01 804.03,1008.01 807.46,1008.01 810.88,1008.01 814.30,1008.01 817.73,1008.01 821.15,1008.01 824.57,1008.01 828.00,1008.00 831.42,1008.00 834.84,1008.00 838.27,1008.00 841.69,1008.00 845.12,1008.00 848.54,1008.00 851.96,1008.00 855.39,1008.00 858.81,1008.00 862.23,1008.00 865.66,1008.01 869.08,1008.02 872.50,1008.03 875.93,1008.05 879.35,1008.07 882.77,1008.09 886.20,1008.12 889.62,1008.15 893.04,1008.18 896.47,1008.21 899.89,1008.25 903.31,1008.28 906.74,1008.32 910.16,1008.36 913.58,1008.40 917.01,1008.44 920.43,1008.48 923.86,1008.52 927.28,1008.56 930.70,1008.60 934.13,1008.64 937.55,1008.68 940.97,1008.71 944.40,1008.75 947.82,1008.79 951.24,1008.82 954.67,1008.85 958.09,1008.88 961.51,1008.90 964.94,1008.93 968.36,1008.95 971.78,1008.97 975.21,1008.98 978.63,1008.99 982.05,1009.00 985.48,1009.00 988.90,1009.01 992.33,1009.01 995.75,1009.02 999.17,1009.02 1002.60,1009.03 1006.02,1009.03 1009.44,1009.03 1012.87,1009.04 1016.29,1009.04 1019.71,1009.04 1023.14,1009.05 1026.56,1009.05 1029.98,1009.05 1033.41,1009.05 1036.83,1009.06 1040.25,1009.06 1043.68,1009.06 1047.10,1009.06 1050.52,1009.06 1053.95,1009.07 1057.37,1009.07 1060.79,1009.07 1064.22,1009.07 1067.64,1009.07 1071.07,1009.08 1074.49,1009.08 1077.91,1009.08 1081.34,1009.08 1084.76,1009.09 1088.18,1009.09 1091.61,1009.09 1095.03,1009.09 1098.45,1009.09 1101.88,1009.10 1105.30,1009.10 1105.30,1027.30 1101.88,1027.31 1098.45,1027.32 1095.03,1027.34 1091.61,1027.35 1088.18,1027.36 1084.76,1027.38 1081.34,1027.39 1077.91,1027.40 1074.49,1027.42 1071.07,1027.43 1067.64,1027.45 1064.22,1027.46 1060.79,1027.48 1057.37,1027.49 1053.95,1027.51 1050.52,1027.52 1047.10,1027.54 1043.68,1027.55 1040.25,1027.56 1036.83,1027.58 1033.41,1027.59 1029.98,1027.60 1026.56,1027.61 1023.14,1027.63 1019.71,1027.64 1016.29,1027.65 1012.87,1027.66 1009.44,1027.66 1006.02,1027.67 1002.60,1027.68 999.17,1027.69 995.75,1027.69 992.33,1027.69 988.90,1027.70 985.48,1027.70 982.05,1027.70 978.63,1027.70 975.21,1027.70 971.78,1027.70 968.36,1027.70 964.94,1027.70 961.51,1027.70 958.09,1027.70 954.67,1027.70 951.24,1027.70 947.82,1027.70 944.40,1027.70 940.97,1027.70 937.55,1027.70 934.13,1027.70 930.70,1027.70 927.28,1027.70 923.86,1027.70 920.43,1027.70 917.01,1027.70 913.58,1027.70 910.16,1027.70 906.74,1027.70 903.31,1027.70 899.89,1027.70 896.47,1027.70 893.04,1027.70 889.62,1027.70 886.20,1027.70 882.77,1027.70 879.35,1027.70 875.93,1027.70 872.50,1027.70 869.08,1027.70 865.66,1027.70 862.23,1027.70 858.81,1027.70 855.39,1027.70 851.96,1027.70 848.54,1027.70 845.12,1027.70 841.69,1027.70 838.27,1027.70 834.84,1027.70 831.42,1027.70 828.00,1027.70 824.57,1027.70 821.15,1027.70 817.73,1027.70 814.30,1027.70 810.88,1027.70 807.46,1027.70 804.03,1027.70 800.61,1027.70 797.19,1027.70 793.76,1027.70 790.34,1027.70 786.92,1027.70 783.49,1027.70 780.07,1027.70 776.65,1027.69 773.22,1027.69 769.80,1027.68 766.38,1027.68 762.95,1027.67 759.53,1027.66 756.10,1027.66 752.68,1027.65 749.26,1027.64 745.83,1027.63 742.41,1027.62 738.99,1027.61 735.56,1027.60 732.14,1027.59 728.72,1027.57 725.29,1027.56 721.87,1027.55 718.45,1027.54 715.02,1027.52 711.60,1027.51 708.18,1027.50 704.75,1027.49 701.33,1027.47 697.91,1027.46 694.48,1027.45 691.06,1027.43 687.63,1027.42 684.21,1027.41 680.79,1027.39 677.36,1027.38 673.94,1027.37 670.52,1027.36 667.09,1027.34 663.67,1027.33 660.25,1027.32 656.82,1027.31 653.40,1027.30" fill="#377EB8" fill-opacity="0.2"/>
<polygon points="653.40,1003.80 656.82,1003.77 660.25,1003.74 663.67,1003.72 667.09,1003.69 670.52,1003.67 673.94,1003.64 677.36,1003.62 680.79,1003.60 684.21,1003.57 687.63,1003.55 691.06,1003.52 694.48,1003.50 697.91,1003.47 701.33,1003.44 704.75,1003.41 708.18,1003.37 711.60,1003.33 715.02,1003.29 718.45,1003.25 721.87,1003.20 725.29,1003.14 728.72,1003.05 732.14,1002.95 735.56,1002.83 738.99,1002.69 742.41,1002.54 745.83,1002.37 749.26,1002.20 752.68,1002.02 756.10,1001.84 759.53,1001.66 762.95,1001.47 766.38,1001.29 769.80,1001.12 773.22,1000.95 776.65,1000.79 780.07,1000.64 783.49,1000.51 786.92,1000.40 790.34,1000.30 793.76,1000.21 797.19,1000.13 800.61,1000.04 804.03,999.95 807.46,999.86 810.88,999.78 814.30,999.70 817.73,999.63 821.15,999.56 824.57,999.50 828.00,999.44 831.42,999.39 834.84,999.35 838.27,999.32 841.69,999.31 845.12,999.30 848.54,999.34 851.96,999.46 855.39,999.62 858.81,999.80 862.23,999.98 865.66,1000.14 869.08,1000.26 872.50,1000.30 875.93,1000.30 879.35,1000.30 882.77,1000.29 886.20,1000.28 889.62,1000.28 893.04,1000.27 896.47,1000.26 899.89,1000.25 903.31,1000.24 906.74,1000.23 910.16,1000.22 913.58,1000.22 917.01,1000.21 920.43,1000.20 923.86,1000.20 927.28,1000.20 930.70,1000.21 934.13,1000.23 937.55,1000.26 940.97,1000.30 944.40,1000.34 947.82,1000.37 951.24,1000.39 954.67,1000.40 958.09,1000.38 961.51,1000.33 964.94,1000.25 968.36,1000.15 971.78,1000.03 975.21,999.89 978.63,999.75 982.05,999.60 985.48,999.42 988.90,999.19 992.33,998.91 995.75,998.61 999.17,998.28 1002.60,997.95 1006.02,997.62 1009.44,997.30 1012.87,997.00 1016.29,996.71 1019.71,996.41 1023.14,996.11 1026.56,995.80 1029.98,995.46 1033.41,995.10 1036.83,994.70 1040.25,994.23 1043.68,993.68 1047.10,993.06 1050.52,992.42 1053.95,991.76 1057.37,991.12 1060.79,990.53 1064.22,990.00 1067.64,989.49 1071.07,988.94 1074.49,988.39 1077.91,987.87 1081.34,987.40 1084.76,987.03 1088.18,986.79 1091.61,986.70 1095.03,986.77 1098.45,986.92 1101.88,987.12 1105.30,987.30 1105.30,1006.00 1101.88,1005.91 1098.45,1005.81 1095.03,1005.73 1091.61,1005.70 1088.18,1005.72 1084.76,1005.79 1081.34,1005.89 1077.91,1006.02 1074.49,1006.17 1071.07,1006.34 1067.64,1006.52 1064.22,1006.70 1060.79,1006.91 1057.37,1007.19 1053.95,1007.50 1050.52,1007.85 1047.10,1008.22 1043.68,1008.59 1040.25,1008.95 1036.83,1009.30 1033.41,1009.64 1029.98,1010.00 1026.56,1010.36 1023.14,1010.72 1019.71,1011.07 1016.29,1011.41 1012.87,1011.72 1009.44,1012.00 1006.02,1012.27 1002.60,1012.54 999.17,1012.81 995.75,1013.08 992.33,1013.34 988.90,1013.60 985.48,1013.85 982.05,1014.09 978.63,1014.32 975.21,1014.53 971.78,1014.72 968.36,1014.89 964.94,1015.03 961.51,1015.15 958.09,1015.24 954.67,1015.30 951.24,1015.34 947.82,1015.37 944.40,1015.40 940.97,1015.43 937.55,1015.45 934.13,1015.47 930.70,1015.49 927.28,1015.50 923.86,1015.51 920.43,1015.52 917.01,1015.52 913.58,1015.53 910.16,1015.53 906.74,1015.54 903.31,1015.54 899.89,1015.55 896.47,1015.55 893.04,1015.55 889.62,1015.56 886.20,1015.56 882.77,1015.56 879.35,1015.57 875.93,1015.57 872.50,1015.58 869.08,1015.58 865.66,1015.59 862.23,1015.59 858.81,1015.60 855.39,1015.61 851.96,1015.62 848.54,1015.63 845.12,1015.64 841.69,1015.66 838.27,1015.67 834.84,1015.69 831.42,1015.71 828.00,1015.73 824.57,1015.75 821.15,1015.77 817.73,1015.79 814.30,1015.82 810.88,1015.84 807.46,1015.86 804.03,1015.89 800.61,1015.92 797.19,1015.94 793.76,1015.97 790.34,1016.00 786.92,1016.03 783.49,1016.07 780.07,1016.12 776.65,1016.18 773.22,1016.24 769.80,1016.30 766.38,1016.37 762.95,1016.43 759.53,1016.50 756.10,1016.57 752.68,1016.64 749.26,1016.70 745.83,1016.76 742.41,1016.82 738.99,1016.87 735.56,1016.91 732.14,1016.95 728.72,1016.98 725.29,1016.99 721.87,1017.00 718.45,1017.00 715.02,1017.00 711.60,1017.00 708.18,1017.00 704.75,1017.00 701.33,1017.00 697.91,1017.00 694.48,1017.00 691.06,1017.00 687.63,1017.00 684.21,1017.00 680.79,1017.00 677.36,1017.00 673.94,1017.00 670.52,1017.00 667.09,1017.00 663.67,1017.00 660.25,1017.00 656.82,1017.00 653.40,1017.00" fill="#4DAF4A" fill-opacity="0.2"/>
<polygon points="653.40,730.30 667.09,720.50 680.79,711.80 694.48,708.50 708.18,705.30 721.87,703.80 735.56,703.50 749.26,703.10 762.95,702.00 776.65,700.30 790.34,700.30 804.03,704.20 817.73,706.40 831.42,711.40 845.12,710.70 858.81,708.50 872.50,710.50 886.20,714.00 899.89,718.40 913.58,721.60 927.28,723.80 940.97,723.80 954.67,720.50 968.36,714.00 982.05,707.50 995.75,696.60 1009.44,684.60 1023.14,672.20 1036.83,660.70 1050.52,645.50 1064.22,625.90 1077.91,606.30 1091.61,596.50 1105.30,595.40 1105.30,724.50 1091.61,723.20 1077.91,730.30 1064.22,745.60 1050.52,760.80 1036.83,772.80 1023.14,782.60 1009.44,792.40 995.75,804.30 982.05,811.90 968.36,818.50 954.67,822.80 940.97,826.10 927.28,826.10 913.58,826.10 899.89,822.80 886.20,819.50 872.50,819.00 858.81,819.50 845.12,820.60 831.42,821.00 817.73,820.60 804.03,820.20 790.34,820.20 776.65,820.60 762.95,820.60 749.26,822.80 735.56,822.80 721.87,824.50 708.18,826.00 694.48,828.20 680.79,831.50 667.09,835.80 653.40,841.30" fill="#984EA3" fill-opacity="0.2"/>
</g>
<rect x="653.4" y="595.2" width="451.9" height="444.5999999999999" fill="none" stroke="#707070" stroke-width="1.3"/>
<path d="M653.4,595.2 V1039.8 H1105.3" fill="none" stroke="#5e5e5e" stroke-width="1.6"/>
<path d="M653.40,1039.8 v9.2 M721.87,1039.8 v9.2 M790.34,1039.8 v9.2 M858.81,1039.8 v9.2 M927.28,1039.8 v9.2 M995.75,1039.8 v9.2 M1064.22,1039.8 v9.2" stroke="#3a3a3a" stroke-width="1.2" fill="none"/>
<path d="M104.40,470.60 H113.8 M104.40,311.50 H113.8 M104.40,152.40 H113.8" stroke="#2a2a2a" stroke-width="1.15" fill="none"/>
<path d="M672.00,470.10 H681.4 M672.00,321.40 H681.4 M672.00,172.70 H681.4" stroke="#2a2a2a" stroke-width="1.15" fill="none"/>
<path d="M76.70,1040.20 H86.1 M76.70,921.40 H86.1 M76.70,801.70 H86.1 M76.70,682.70 H86.1" stroke="#2a2a2a" stroke-width="1.15" fill="none"/>
<path d="M644.00,1040.20 H653.4 M644.00,916.50 H653.4 M644.00,792.90 H653.4 M644.00,669.20 H653.4" stroke="#2a2a2a" stroke-width="1.15" fill="none"/>
<line x1="1122.1" y1="496.1" x2="1140.8" y2="496.1" stroke="#E41A1C" stroke-width="1.8"/>
<line x1="1122.1" y1="520.9" x2="1140.8" y2="520.9" stroke="#377EB8" stroke-width="1.8"/>
<line x1="1122.1" y1="545.6" x2="1140.8" y2="545.6" stroke="#4DAF4A" stroke-width="1.8"/>
<line x1="1122.1" y1="570.3" x2="1140.8" y2="570.3" stroke="#984EA3" stroke-width="1.8"/>
<text x="119.05" y="15.80" font-size="20.29" textLength="413.31" lengthAdjust="spacingAndGlyphs">Number of prevalence cases in both sexes</text>
<text x="709.98" y="16.00" font-size="20.29" textLength="366.46" lengthAdjust="spacingAndGlyphs">Number of DALYs cases in both sexes</text>
<text x="103.00" y="585.70" font-size="20.29" textLength="418.76" lengthAdjust="spacingAndGlyphs">Age-standardized prevalence in both sexes</text>
<text x="693.50" y="586.00" font-size="20.29" textLength="372.04" lengthAdjust="spacingAndGlyphs">Age-standardized DALYs in both sexes</text>
<text transform="translate(15.80,441.85) rotate(-90)" x="0" y="0" font-size="21.16" textLength="388.30" lengthAdjust="spacingAndGlyphs">Number of prevalence cases (thousand)</text>
<text transform="translate(586.90,418.72) rotate(-90)" x="0" y="0" font-size="21.16" textLength="342.36" lengthAdjust="spacingAndGlyphs">Number of DALYs cases (thousand)</text>
<text transform="translate(16.00,997.99) rotate(-90)" x="0" y="0" font-size="21.16" textLength="360.97" lengthAdjust="spacingAndGlyphs">Prevalence (per 100,000 population)</text>
<text transform="translate(587.70,974.77) rotate(-90)" x="0" y="0" font-size="21.16" textLength="314.75" lengthAdjust="spacingAndGlyphs">DALYs (per 100,000 population)</text>
<text x="304.78" y="533.00" font-size="21.74" textLength="42.19" lengthAdjust="spacingAndGlyphs">Year</text>
<text x="872.28" y="533.00" font-size="21.74" textLength="42.19" lengthAdjust="spacingAndGlyphs">Year</text>
<text x="290.78" y="1101.70" font-size="21.74" textLength="42.19" lengthAdjust="spacingAndGlyphs">Year</text>
<text x="858.18" y="1101.70" font-size="21.74" textLength="42.19" lengthAdjust="spacingAndGlyphs">Year</text>
<text x="91.78" y="501.90" font-size="18.00" textLength="42.00" lengthAdjust="spacingAndGlyphs">1990</text>
<text x="156.71" y="501.90" font-size="18.00" textLength="40.64" lengthAdjust="spacingAndGlyphs">1995</text>
<text x="219.24" y="501.90" font-size="18.00" textLength="44.42" lengthAdjust="spacingAndGlyphs">2000</text>
<text x="283.48" y="501.90" font-size="18.00" textLength="44.42" lengthAdjust="spacingAndGlyphs">2005</text>
<text x="349.55" y="501.90" font-size="18.00" textLength="40.78" lengthAdjust="spacingAndGlyphs">2010</text>
<text x="414.06" y="501.90" font-size="18.00" textLength="40.26" lengthAdjust="spacingAndGlyphs">2015</text>
<text x="476.21" y="501.90" font-size="18.00" textLength="44.42" lengthAdjust="spacingAndGlyphs">2020</text>
<text x="659.38" y="501.90" font-size="18.00" textLength="42.00" lengthAdjust="spacingAndGlyphs">1990</text>
<text x="724.30" y="501.90" font-size="18.00" textLength="40.64" lengthAdjust="spacingAndGlyphs">1995</text>
<text x="786.81" y="501.90" font-size="18.00" textLength="44.42" lengthAdjust="spacingAndGlyphs">2000</text>
<text x="851.03" y="501.90" font-size="18.00" textLength="44.42" lengthAdjust="spacingAndGlyphs">2005</text>
<text x="917.09" y="501.90" font-size="18.00" textLength="40.78" lengthAdjust="spacingAndGlyphs">2010</text>
<text x="981.58" y="501.90" font-size="18.00" textLength="40.26" lengthAdjust="spacingAndGlyphs">2015</text>
<text x="1043.72" y="501.90" font-size="18.00" textLength="44.42" lengthAdjust="spacingAndGlyphs">2020</text>
<text x="64.08" y="1071.80" font-size="18.00" textLength="42.00" lengthAdjust="spacingAndGlyphs">1990</text>
<text x="133.18" y="1071.80" font-size="18.00" textLength="40.64" lengthAdjust="spacingAndGlyphs">1995</text>
<text x="199.87" y="1071.80" font-size="18.00" textLength="44.42" lengthAdjust="spacingAndGlyphs">2000</text>
<text x="268.28" y="1071.80" font-size="18.00" textLength="44.42" lengthAdjust="spacingAndGlyphs">2005</text>
<text x="338.52" y="1071.80" font-size="18.00" textLength="40.78" lengthAdjust="spacingAndGlyphs">2010</text>
<text x="407.19" y="1071.80" font-size="18.00" textLength="40.26" lengthAdjust="spacingAndGlyphs">2015</text>
<text x="473.51" y="1071.80" font-size="18.00" textLength="44.42" lengthAdjust="spacingAndGlyphs">2020</text>
<text x="631.38" y="1071.80" font-size="18.00" textLength="42.00" lengthAdjust="spacingAndGlyphs">1990</text>
<text x="700.54" y="1071.80" font-size="18.00" textLength="40.64" lengthAdjust="spacingAndGlyphs">1995</text>
<text x="767.29" y="1071.80" font-size="18.00" textLength="44.42" lengthAdjust="spacingAndGlyphs">2000</text>
<text x="835.76" y="1071.80" font-size="18.00" textLength="44.42" lengthAdjust="spacingAndGlyphs">2005</text>
<text x="906.06" y="1071.80" font-size="18.00" textLength="40.78" lengthAdjust="spacingAndGlyphs">2010</text>
<text x="974.79" y="1071.80" font-size="18.00" textLength="40.26" lengthAdjust="spacingAndGlyphs">2015</text>
<text x="1041.17" y="1071.80" font-size="18.00" textLength="44.42" lengthAdjust="spacingAndGlyphs">2020</text>
<text x="88.27" y="478.00" font-size="18.00" textLength="11.69" lengthAdjust="spacingAndGlyphs">0</text>
<text x="34.22" y="317.80" font-size="18.00" textLength="60.50" lengthAdjust="spacingAndGlyphs">10,000</text>
<text x="31.26" y="158.70" font-size="18.00" textLength="63.49" lengthAdjust="spacingAndGlyphs">20,000</text>
<text x="655.77" y="477.20" font-size="18.00" textLength="11.69" lengthAdjust="spacingAndGlyphs">0</text>
<text x="611.18" y="327.70" font-size="18.00" textLength="51.47" lengthAdjust="spacingAndGlyphs">5,000</text>
<text x="601.72" y="179.00" font-size="18.00" textLength="60.50" lengthAdjust="spacingAndGlyphs">10,000</text>
<text x="55.47" y="1046.50" font-size="18.00" textLength="11.69" lengthAdjust="spacingAndGlyphs">0</text>
<text x="35.79" y="927.70" font-size="18.00" textLength="31.29" lengthAdjust="spacingAndGlyphs">100</text>
<text x="32.15" y="808.00" font-size="18.00" textLength="35.01" lengthAdjust="spacingAndGlyphs">200</text>
<text x="32.58" y="689.00" font-size="18.00" textLength="34.57" lengthAdjust="spacingAndGlyphs">300</text>
<text x="623.37" y="1046.50" font-size="18.00" textLength="11.69" lengthAdjust="spacingAndGlyphs">0</text>
<text x="612.12" y="922.80" font-size="18.00" textLength="21.79" lengthAdjust="spacingAndGlyphs">50</text>
<text x="602.59" y="799.20" font-size="18.00" textLength="31.29" lengthAdjust="spacingAndGlyphs">100</text>
<text x="604.26" y="675.50" font-size="18.00" textLength="29.58" lengthAdjust="spacingAndGlyphs">150</text>
<text x="1152.60" y="501.80" font-size="17.97" textLength="35.10" lengthAdjust="spacingAndGlyphs">AUD</text>
<text x="1151.72" y="526.60" font-size="17.97" textLength="49.61" lengthAdjust="spacingAndGlyphs">CAUD</text>
<text x="1151.73" y="551.30" font-size="17.97" textLength="37.70" lengthAdjust="spacingAndGlyphs">CUD</text>
<text x="1151.90" y="576.00" font-size="17.97" textLength="38.94" lengthAdjust="spacingAndGlyphs">OUD</text>
</svg></body></html>
